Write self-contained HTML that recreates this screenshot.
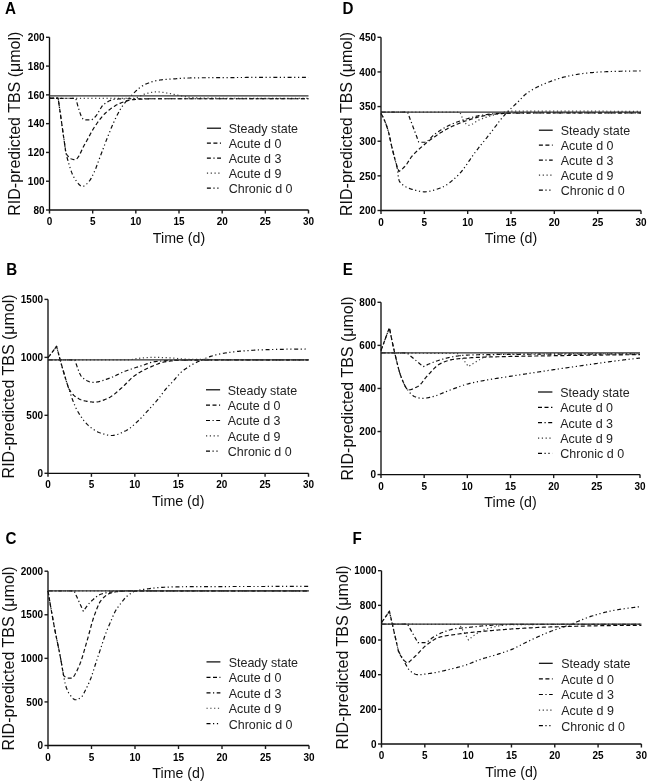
<!DOCTYPE html><html><head><meta charset="utf-8"><style>html,body{margin:0;padding:0;background:#fff;width:649px;height:784px;overflow:hidden}svg{display:block}</style></head><body>
<svg width="649" height="784" viewBox="0 0 649 784" font-family='"Liberation Sans", sans-serif'>
<defs><filter id="bl" x="0" y="0" width="649" height="784" filterUnits="userSpaceOnUse"><feGaussianBlur stdDeviation="0.35"/></filter></defs>
<rect width="649" height="784" fill="#fff"/><g filter="url(#bl)">
<g><text transform="translate(5.00,13.60) scale(0.92,1)" font-size="16.5" font-weight="bold" fill="#000">A</text><path d="M49.50,37.30V210.00H308.50" fill="none" stroke="#111" stroke-width="1.35"/><path d="M46.00,210.00H49.50" stroke="#1a1a1a" stroke-width="1.4"/><text transform="translate(44.50,213.70) scale(0.97,1)" font-size="10.3" font-weight="bold" text-anchor="end" fill="#000">80</text><path d="M46.00,181.22H49.50" stroke="#1a1a1a" stroke-width="1.4"/><text transform="translate(44.50,184.92) scale(0.97,1)" font-size="10.3" font-weight="bold" text-anchor="end" fill="#000">100</text><path d="M46.00,152.43H49.50" stroke="#1a1a1a" stroke-width="1.4"/><text transform="translate(44.50,156.13) scale(0.97,1)" font-size="10.3" font-weight="bold" text-anchor="end" fill="#000">120</text><path d="M46.00,123.65H49.50" stroke="#1a1a1a" stroke-width="1.4"/><text transform="translate(44.50,127.35) scale(0.97,1)" font-size="10.3" font-weight="bold" text-anchor="end" fill="#000">140</text><path d="M46.00,94.87H49.50" stroke="#1a1a1a" stroke-width="1.4"/><text transform="translate(44.50,98.57) scale(0.97,1)" font-size="10.3" font-weight="bold" text-anchor="end" fill="#000">160</text><path d="M46.00,66.08H49.50" stroke="#1a1a1a" stroke-width="1.4"/><text transform="translate(44.50,69.78) scale(0.97,1)" font-size="10.3" font-weight="bold" text-anchor="end" fill="#000">180</text><path d="M46.00,37.30H49.50" stroke="#1a1a1a" stroke-width="1.4"/><text transform="translate(44.50,41.00) scale(0.97,1)" font-size="10.3" font-weight="bold" text-anchor="end" fill="#000">200</text><path d="M49.50,210.00V213.50" stroke="#1a1a1a" stroke-width="1.4"/><text transform="translate(49.50,225.00) scale(0.97,1)" font-size="10.3" font-weight="bold" text-anchor="middle" fill="#000">0</text><path d="M92.67,210.00V213.50" stroke="#1a1a1a" stroke-width="1.4"/><text transform="translate(92.67,225.00) scale(0.97,1)" font-size="10.3" font-weight="bold" text-anchor="middle" fill="#000">5</text><path d="M135.83,210.00V213.50" stroke="#1a1a1a" stroke-width="1.4"/><text transform="translate(135.83,225.00) scale(0.97,1)" font-size="10.3" font-weight="bold" text-anchor="middle" fill="#000">10</text><path d="M179.00,210.00V213.50" stroke="#1a1a1a" stroke-width="1.4"/><text transform="translate(179.00,225.00) scale(0.97,1)" font-size="10.3" font-weight="bold" text-anchor="middle" fill="#000">15</text><path d="M222.17,210.00V213.50" stroke="#1a1a1a" stroke-width="1.4"/><text transform="translate(222.17,225.00) scale(0.97,1)" font-size="10.3" font-weight="bold" text-anchor="middle" fill="#000">20</text><path d="M265.33,210.00V213.50" stroke="#1a1a1a" stroke-width="1.4"/><text transform="translate(265.33,225.00) scale(0.97,1)" font-size="10.3" font-weight="bold" text-anchor="middle" fill="#000">25</text><path d="M308.50,210.00V213.50" stroke="#1a1a1a" stroke-width="1.4"/><text transform="translate(308.50,225.00) scale(0.97,1)" font-size="10.3" font-weight="bold" text-anchor="middle" fill="#000">30</text><text x="179.00" y="242.70" font-size="14.2" text-anchor="middle" fill="#111">Time (d)</text><text transform="translate(20.10,123.65) rotate(-90)" x="0" y="0" font-size="16" text-anchor="middle" fill="#111">RID-predicted TBS (μmol)</text><path d="M49.50,98.32L50.22,98.32L50.94,98.32L51.66,98.32L52.38,98.32L53.10,98.32L53.82,98.32L54.54,98.32L55.26,98.32L55.98,98.32L56.69,98.32L57.41,98.32L58.13,98.32L58.85,98.32L59.57,98.32L60.29,98.32L61.01,98.32L61.73,98.32L62.45,98.32L63.17,98.32L63.89,98.32L64.61,98.32L65.33,98.32L66.05,98.32L66.77,98.32L67.49,98.32L68.21,98.32L68.92,98.32L69.64,98.32L70.36,98.32L71.08,98.32L71.80,98.32L72.52,98.32L73.24,98.32L73.96,98.32L74.68,98.32L75.40,98.32L76.12,98.32L76.84,98.32L77.56,98.32L78.28,98.32L79.00,98.32L79.72,98.32L80.44,98.32L81.16,98.32L81.88,98.32L82.59,98.32L83.31,98.32L84.03,98.32L84.75,98.32L85.47,98.32L86.19,98.32L86.91,98.32L87.63,98.32L88.35,98.32L89.07,98.32L89.79,98.32L90.51,98.32L91.23,98.32L91.95,98.32L92.67,98.32L93.39,98.32L94.11,98.32L94.82,98.32L95.54,98.32L96.26,98.32L96.98,98.32L97.70,98.32L98.42,98.32L99.14,98.32L99.86,98.32L100.58,98.32L101.30,98.32L102.02,98.32L102.74,98.32L103.46,98.32L104.18,98.32L104.90,98.32L105.62,98.32L106.34,98.32L107.06,98.32L107.78,98.32L108.49,98.32L109.21,98.32L109.93,98.32L110.65,98.32L111.37,98.32L112.09,98.32L112.81,98.32L113.53,98.32L114.25,98.32L114.97,98.32L115.69,98.32L116.41,98.32L117.13,98.32L117.85,98.32L118.57,98.32L119.29,98.32L120.01,98.32L120.72,98.32L121.44,98.32L122.16,98.32L122.88,98.32L123.60,98.32L124.32,98.32L125.04,98.32L125.76,98.32L126.48,98.32L127.20,98.32L127.92,98.32L128.64,98.32L129.36,98.32L130.08,98.32L130.80,98.32L131.52,98.32L132.24,98.32L132.96,98.32L133.68,98.31L134.39,98.24L135.11,98.10L135.83,97.92L136.55,97.69L137.27,97.42L137.99,97.12L138.71,96.80L139.43,96.45L140.15,96.10L140.87,95.74L141.59,95.38L142.31,95.03L143.03,94.69L143.75,94.38L144.47,94.10L145.19,93.85L145.91,93.64L146.62,93.47L147.34,93.31L148.06,93.14L148.78,92.97L149.50,92.81L150.22,92.65L150.94,92.50L151.66,92.36L152.38,92.23L153.10,92.12L153.82,92.02L154.54,91.94L155.26,91.89L155.98,91.85L156.70,91.84L157.42,91.86L158.14,91.89L158.86,91.93L159.57,91.99L160.29,92.06L161.01,92.14L161.73,92.23L162.45,92.32L163.17,92.43L163.89,92.53L164.61,92.65L165.33,92.76L166.05,92.87L166.77,92.99L167.49,93.10L168.21,93.21L168.93,93.33L169.65,93.46L170.37,93.60L171.09,93.75L171.81,93.91L172.52,94.07L173.24,94.24L173.96,94.40L174.68,94.57L175.40,94.73L176.12,94.89L176.84,95.04L177.56,95.19L178.28,95.33L179.00,95.46L179.72,95.60L180.44,95.74L181.16,95.88L181.88,96.03L182.60,96.17L183.32,96.30L184.04,96.44L184.76,96.57L185.47,96.70L186.19,96.81L186.91,96.93L187.63,97.03L188.35,97.12L189.07,97.21L189.79,97.28L190.51,97.34L191.23,97.39L191.95,97.45L192.67,97.50L193.39,97.56L194.11,97.61L194.83,97.66L195.55,97.71L196.27,97.75L196.99,97.80L197.71,97.84L198.42,97.88L199.14,97.92L199.86,97.96L200.58,98.00L201.30,98.03L202.02,98.06L202.74,98.08L203.46,98.11L204.18,98.13L204.90,98.14L205.62,98.16L206.34,98.17L207.06,98.17L207.78,98.18L208.50,98.18L209.22,98.18L209.94,98.19L210.66,98.19L211.38,98.19L212.09,98.19L212.81,98.19L213.53,98.20L214.25,98.20L214.97,98.20L215.69,98.20L216.41,98.21L217.13,98.21L217.85,98.21L218.57,98.21L219.29,98.21L220.01,98.22L220.73,98.22L221.45,98.22L222.17,98.22L222.89,98.23L223.61,98.23L224.32,98.23L225.04,98.23L225.76,98.23L226.48,98.23L227.20,98.24L227.92,98.24L228.64,98.24L229.36,98.24L230.08,98.24L230.80,98.25L231.52,98.25L232.24,98.25L232.96,98.25L233.68,98.25L234.40,98.25L235.12,98.26L235.84,98.26L236.56,98.26L237.27,98.26L237.99,98.26L238.71,98.26L239.43,98.26L240.15,98.27L240.87,98.27L241.59,98.27L242.31,98.27L243.03,98.27L243.75,98.27L244.47,98.27L245.19,98.27L245.91,98.28L246.63,98.28L247.35,98.28L248.07,98.28L248.79,98.28L249.51,98.28L250.22,98.28L250.94,98.28L251.66,98.29L252.38,98.29L253.10,98.29L253.82,98.29L254.54,98.29L255.26,98.29L255.98,98.29L256.70,98.29L257.42,98.29L258.14,98.29L258.86,98.29L259.58,98.30L260.30,98.30L261.02,98.30L261.74,98.30L262.46,98.30L263.17,98.30L263.89,98.30L264.61,98.30L265.33,98.30L266.05,98.30L266.77,98.30L267.49,98.30L268.21,98.30L268.93,98.31L269.65,98.31L270.37,98.31L271.09,98.31L271.81,98.31L272.53,98.31L273.25,98.31L273.97,98.31L274.69,98.31L275.41,98.31L276.12,98.31L276.84,98.31L277.56,98.31L278.28,98.31L279.00,98.31L279.72,98.31L280.44,98.31L281.16,98.31L281.88,98.31L282.60,98.31L283.32,98.32L284.04,98.32L284.76,98.32L285.48,98.32L286.20,98.32L286.92,98.32L287.64,98.32L288.36,98.32L289.07,98.32L289.79,98.32L290.51,98.32L291.23,98.32L291.95,98.32L292.67,98.32L293.39,98.32L294.11,98.32L294.83,98.32L295.55,98.32L296.27,98.32L296.99,98.32L297.71,98.32L298.43,98.32L299.15,98.32L299.87,98.32L300.59,98.32L301.31,98.32L302.02,98.32L302.74,98.32L303.46,98.32L304.18,98.32L304.90,98.32L305.62,98.32L306.34,98.32L307.06,98.32L307.78,98.32L308.50,98.32" fill="none" stroke="#111" stroke-width="1.2" stroke-opacity="0.8" stroke-dasharray="1.2 2.6" stroke-linejoin="round"/><path d="M49.50,98.32L75.83,98.32L76.55,101.12L77.27,103.85L77.99,106.47L78.71,108.95L79.43,111.26L80.15,113.37L80.87,115.24L81.59,116.84L82.31,118.14L83.04,119.10L83.76,119.70L84.48,119.91L85.20,119.91L85.92,119.91L86.64,119.91L87.36,119.91L88.08,119.91L88.80,119.91L89.52,119.91L90.24,119.91L90.96,119.91L91.68,119.76L92.40,119.37L93.12,118.81L93.84,118.14L94.56,117.42L95.28,116.72L96.00,115.94L96.72,114.98L97.44,113.89L98.16,112.70L98.88,111.44L99.60,110.17L100.32,108.92L101.04,107.71L101.76,106.60L102.48,105.62L103.20,104.81L103.92,104.20L104.65,103.70L105.37,103.21L106.09,102.74L106.81,102.29L107.53,101.86L108.25,101.46L108.97,101.08L109.69,100.72L110.41,100.40L111.13,100.11L111.85,99.85L112.57,99.63L113.29,99.45L114.01,99.31L114.73,99.22L115.45,99.16L116.17,99.12L116.89,99.07L117.61,99.03L118.33,98.99L119.05,98.96L119.77,98.92L120.49,98.89L121.21,98.87L121.93,98.84L122.65,98.82L123.37,98.80L124.09,98.78L124.81,98.77L125.53,98.76L126.26,98.76L126.98,98.75L127.70,98.75L128.42,98.75L129.14,98.75L129.86,98.75L130.58,98.75L131.30,98.75L132.02,98.75L132.74,98.75L133.46,98.75L134.18,98.75L134.90,98.75L135.62,98.75L136.34,98.75L137.06,98.75L137.78,98.75L138.50,98.75L139.22,98.75L139.94,98.75L140.66,98.75L141.38,98.75L142.10,98.75L142.82,98.75L143.54,98.75L144.26,98.75L144.98,98.75L145.70,98.75L146.42,98.75L147.14,98.75L147.87,98.75L148.59,98.75L149.31,98.75L150.03,98.75L150.75,98.75L151.47,98.75L152.19,98.75L152.91,98.75L153.63,98.75L154.35,98.75L155.07,98.75L155.79,98.75L156.51,98.75L157.23,98.75L157.95,98.75L158.67,98.75L159.39,98.75L160.11,98.75L160.83,98.75L161.55,98.75L162.27,98.75L162.99,98.75L163.71,98.75L164.43,98.75L165.15,98.75L165.87,98.75L166.59,98.75L167.31,98.75L168.03,98.75L168.75,98.75L169.48,98.75L170.20,98.75L170.92,98.75L171.64,98.75L172.36,98.75L173.08,98.75L173.80,98.75L174.52,98.75L175.24,98.75L175.96,98.75L176.68,98.75L177.40,98.75L178.12,98.75L178.84,98.75L179.56,98.75L180.28,98.75L181.00,98.75L181.72,98.75L182.44,98.75L183.16,98.75L183.88,98.75L184.60,98.75L185.32,98.75L186.04,98.75L186.76,98.75L187.48,98.75L188.20,98.75L188.92,98.75L189.64,98.75L190.36,98.75L191.09,98.75L191.81,98.75L192.53,98.75L193.25,98.75L193.97,98.75L194.69,98.75L195.41,98.75L196.13,98.75L196.85,98.75L197.57,98.75L198.29,98.75L199.01,98.75L199.73,98.75L200.45,98.75L201.17,98.75L201.89,98.75L202.61,98.75L203.33,98.75L204.05,98.75L204.77,98.75L205.49,98.75L206.21,98.75L206.93,98.75L207.65,98.75L208.37,98.75L209.09,98.75L209.81,98.75L210.53,98.75L211.25,98.75L211.98,98.75L212.70,98.75L213.42,98.75L214.14,98.75L214.86,98.75L215.58,98.75L216.30,98.75L217.02,98.75L217.74,98.75L218.46,98.75L219.18,98.75L219.90,98.75L220.62,98.75L221.34,98.75L222.06,98.75L222.78,98.75L223.50,98.75L224.22,98.75L224.94,98.75L225.66,98.75L226.38,98.75L227.10,98.75L227.82,98.75L228.54,98.75L229.26,98.75L229.98,98.75L230.70,98.75L231.42,98.75L232.14,98.75L232.86,98.75L233.59,98.75L234.31,98.75L235.03,98.75L235.75,98.75L236.47,98.75L237.19,98.75L237.91,98.75L238.63,98.75L239.35,98.75L240.07,98.75L240.79,98.75L241.51,98.75L242.23,98.75L242.95,98.75L243.67,98.75L244.39,98.75L245.11,98.75L245.83,98.75L246.55,98.75L247.27,98.75L247.99,98.75L248.71,98.75L249.43,98.75L250.15,98.75L250.87,98.75L251.59,98.75L252.31,98.75L253.03,98.75L253.75,98.75L254.47,98.75L255.20,98.75L255.92,98.75L256.64,98.75L257.36,98.75L258.08,98.75L258.80,98.75L259.52,98.75L260.24,98.75L260.96,98.75L261.68,98.75L262.40,98.75L263.12,98.75L263.84,98.75L264.56,98.75L265.28,98.75L266.00,98.75L266.72,98.75L267.44,98.75L268.16,98.75L268.88,98.75L269.60,98.75L270.32,98.75L271.04,98.75L271.76,98.75L272.48,98.75L273.20,98.75L273.92,98.75L274.64,98.75L275.36,98.75L276.08,98.75L276.81,98.75L277.53,98.75L278.25,98.75L278.97,98.75L279.69,98.75L280.41,98.75L281.13,98.75L281.85,98.75L282.57,98.75L283.29,98.75L284.01,98.75L284.73,98.75L285.45,98.75L286.17,98.75L286.89,98.75L287.61,98.75L288.33,98.75L289.05,98.75L289.77,98.75L290.49,98.75L291.21,98.75L291.93,98.75L292.65,98.75L293.37,98.75L294.09,98.75L294.81,98.75L295.53,98.75L296.25,98.75L296.97,98.75L297.69,98.75L298.42,98.75L299.14,98.75L299.86,98.75L300.58,98.75L301.30,98.75L302.02,98.75L302.74,98.75L303.46,98.75L304.18,98.75L304.90,98.75L305.62,98.75L306.34,98.75L307.06,98.75L307.78,98.75L308.50,98.75" fill="none" stroke="#111" stroke-width="1.2" stroke-opacity="1.0" stroke-dasharray="4 2.5 1.2 2.5" stroke-linejoin="round"/><path d="M49.50,98.03L58.13,98.03L65.90,153.01L66.62,154.25L67.34,155.32L68.06,156.25L68.78,157.04L69.50,157.70L70.22,158.24L70.94,158.68L71.66,159.02L72.38,159.27L73.10,159.45L73.82,159.56L74.54,159.62L75.26,159.62L75.98,159.42L76.70,158.92L77.42,158.18L78.14,157.21L78.86,156.07L79.58,154.77L80.30,153.36L81.02,151.88L81.74,150.34L82.46,148.80L83.18,147.28L83.90,145.82L84.62,144.45L85.34,143.20L86.06,141.96L86.78,140.68L87.50,139.38L88.22,138.05L88.94,136.72L89.66,135.38L90.38,134.04L91.10,132.72L91.82,131.43L92.54,130.16L93.26,128.93L93.98,127.76L94.70,126.63L95.42,125.58L96.14,124.54L96.86,123.52L97.58,122.52L98.30,121.52L99.02,120.55L99.74,119.60L100.46,118.67L101.18,117.76L101.90,116.89L102.62,116.04L103.34,115.23L104.06,114.45L104.78,113.72L105.50,113.02L106.22,112.36L106.94,111.75L107.66,111.15L108.38,110.56L109.10,109.99L109.82,109.43L110.54,108.88L111.26,108.35L111.98,107.83L112.69,107.33L113.41,106.85L114.13,106.39L114.85,105.94L115.57,105.51L116.29,105.10L117.01,104.71L117.73,104.35L118.45,104.00L119.17,103.67L119.89,103.37L120.61,103.09L121.33,102.81L122.05,102.54L122.77,102.27L123.49,102.01L124.21,101.75L124.93,101.50L125.65,101.27L126.37,101.04L127.09,100.82L127.81,100.62L128.53,100.43L129.25,100.25L129.97,100.09L130.69,99.95L131.41,99.83L132.13,99.73L132.85,99.65L133.57,99.59L134.29,99.53L135.01,99.48L135.73,99.43L136.45,99.38L137.17,99.33L137.89,99.28L138.61,99.23L139.33,99.19L140.05,99.15L140.77,99.11L141.49,99.07L142.21,99.03L142.93,99.00L143.65,98.97L144.37,98.94L145.09,98.91L145.81,98.88L146.53,98.86L147.25,98.84L147.97,98.82L148.69,98.80L149.41,98.79L150.13,98.77L150.85,98.77L151.57,98.76L152.29,98.75L153.01,98.75L153.73,98.75L154.45,98.75L155.17,98.75L155.89,98.75L156.61,98.75L157.33,98.75L158.05,98.75L158.77,98.75L159.49,98.75L160.21,98.75L160.93,98.75L161.65,98.75L162.37,98.75L163.09,98.75L163.81,98.75L164.53,98.75L165.25,98.75L165.97,98.75L166.69,98.75L167.41,98.75L168.13,98.75L168.84,98.75L169.56,98.75L170.28,98.75L171.00,98.75L171.72,98.75L172.44,98.75L173.16,98.75L173.88,98.75L174.60,98.75L175.32,98.75L176.04,98.75L176.76,98.75L177.48,98.75L178.20,98.75L178.92,98.75L179.64,98.75L180.36,98.75L181.08,98.75L181.80,98.75L182.52,98.75L183.24,98.75L183.96,98.75L184.68,98.75L185.40,98.75L186.12,98.75L186.84,98.75L187.56,98.75L188.28,98.75L189.00,98.75L189.72,98.75L190.44,98.75L191.16,98.75L191.88,98.75L192.60,98.75L193.32,98.75L194.04,98.75L194.76,98.75L195.48,98.75L196.20,98.75L196.92,98.75L197.64,98.75L198.36,98.75L199.08,98.75L199.80,98.75L200.52,98.75L201.24,98.75L201.96,98.75L202.68,98.75L203.40,98.75L204.12,98.75L204.84,98.75L205.56,98.75L206.28,98.75L207.00,98.75L207.72,98.75L208.44,98.75L209.16,98.75L209.88,98.75L210.60,98.75L211.32,98.75L212.04,98.75L212.76,98.75L213.48,98.75L214.20,98.75L214.92,98.75L215.64,98.75L216.36,98.75L217.08,98.75L217.80,98.75L218.52,98.75L219.24,98.75L219.96,98.75L220.68,98.75L221.40,98.75L222.12,98.75L222.84,98.75L223.56,98.75L224.28,98.75L224.99,98.75L225.71,98.75L226.43,98.75L227.15,98.75L227.87,98.75L228.59,98.75L229.31,98.75L230.03,98.75L230.75,98.75L231.47,98.75L232.19,98.75L232.91,98.75L233.63,98.75L234.35,98.75L235.07,98.75L235.79,98.75L236.51,98.75L237.23,98.75L237.95,98.75L238.67,98.75L239.39,98.75L240.11,98.75L240.83,98.75L241.55,98.75L242.27,98.75L242.99,98.75L243.71,98.75L244.43,98.75L245.15,98.75L245.87,98.75L246.59,98.75L247.31,98.75L248.03,98.75L248.75,98.75L249.47,98.75L250.19,98.75L250.91,98.75L251.63,98.75L252.35,98.75L253.07,98.75L253.79,98.75L254.51,98.75L255.23,98.75L255.95,98.75L256.67,98.75L257.39,98.75L258.11,98.75L258.83,98.75L259.55,98.75L260.27,98.75L260.99,98.75L261.71,98.75L262.43,98.75L263.15,98.75L263.87,98.75L264.59,98.75L265.31,98.75L266.03,98.75L266.75,98.75L267.47,98.75L268.19,98.75L268.91,98.75L269.63,98.75L270.35,98.75L271.07,98.75L271.79,98.75L272.51,98.75L273.23,98.75L273.95,98.75L274.67,98.75L275.39,98.75L276.11,98.75L276.83,98.75L277.55,98.75L278.27,98.75L278.99,98.75L279.71,98.75L280.43,98.75L281.14,98.75L281.86,98.75L282.58,98.75L283.30,98.75L284.02,98.75L284.74,98.75L285.46,98.75L286.18,98.75L286.90,98.75L287.62,98.75L288.34,98.75L289.06,98.75L289.78,98.75L290.50,98.75L291.22,98.75L291.94,98.75L292.66,98.75L293.38,98.75L294.10,98.75L294.82,98.75L295.54,98.75L296.26,98.75L296.98,98.75L297.70,98.75L298.42,98.75L299.14,98.75L299.86,98.75L300.58,98.75L301.30,98.75L302.02,98.75L302.74,98.75L303.46,98.75L304.18,98.75L304.90,98.75L305.62,98.75L306.34,98.75L307.06,98.75L307.78,98.75L308.50,98.75" fill="none" stroke="#111" stroke-width="1.2" stroke-opacity="1.0" stroke-dasharray="4 2.5" stroke-linejoin="round"/><path d="M49.50,98.03L58.13,98.03L65.90,153.01L66.62,155.80L67.34,158.52L68.06,161.14L68.78,163.65L69.50,166.05L70.22,168.31L70.94,170.42L71.66,172.38L72.38,174.16L73.10,175.76L73.82,177.16L74.54,178.35L75.26,179.42L75.98,180.49L76.70,181.52L77.42,182.51L78.14,183.42L78.86,184.25L79.58,184.97L80.30,185.56L81.02,186.01L81.74,186.29L82.46,186.40L83.18,186.31L83.90,186.06L84.62,185.67L85.34,185.16L86.06,184.55L86.78,183.86L87.50,183.11L88.22,182.32L88.94,181.52L89.66,180.68L90.38,179.63L91.10,178.41L91.82,177.04L92.54,175.59L93.26,174.07L93.98,172.55L94.70,170.96L95.42,169.26L96.14,167.46L96.86,165.59L97.58,163.67L98.30,161.71L99.02,159.74L99.74,157.78L100.46,155.84L101.18,153.95L101.90,152.07L102.62,150.16L103.34,148.25L104.06,146.34L104.78,144.43L105.50,142.53L106.22,140.65L106.94,138.79L107.66,136.97L108.38,135.18L109.10,133.39L109.82,131.60L110.54,129.83L111.26,128.08L111.98,126.35L112.69,124.66L113.41,123.01L114.13,121.41L114.85,119.87L115.57,118.38L116.29,116.92L117.01,115.47L117.73,114.06L118.45,112.68L119.17,111.35L119.89,110.07L120.61,108.84L121.33,107.69L122.05,106.60L122.77,105.58L123.49,104.62L124.21,103.70L124.93,102.83L125.65,101.98L126.37,101.16L127.09,100.36L127.81,99.58L128.53,98.79L129.25,98.01L129.97,97.22L130.69,96.43L131.41,95.65L132.13,94.86L132.85,94.09L133.57,93.33L134.29,92.59L135.01,91.86L135.73,91.16L136.45,90.48L137.17,89.84L137.89,89.22L138.61,88.64L139.33,88.10L140.05,87.57L140.77,87.06L141.49,86.56L142.21,86.08L142.93,85.63L143.65,85.20L144.37,84.80L145.09,84.43L145.81,84.09L146.53,83.79L147.25,83.50L147.97,83.21L148.69,82.94L149.41,82.67L150.13,82.41L150.85,82.16L151.57,81.92L152.29,81.69L153.01,81.47L153.73,81.26L154.45,81.06L155.17,80.88L155.89,80.71L156.61,80.56L157.33,80.42L158.05,80.30L158.77,80.19L159.49,80.10L160.21,80.01L160.93,79.92L161.65,79.84L162.37,79.77L163.09,79.70L163.81,79.63L164.53,79.57L165.25,79.51L165.97,79.45L166.69,79.39L167.41,79.34L168.13,79.29L168.84,79.24L169.56,79.19L170.28,79.14L171.00,79.09L171.72,79.04L172.44,78.99L173.16,78.94L173.88,78.89L174.60,78.83L175.32,78.78L176.04,78.73L176.76,78.67L177.48,78.62L178.20,78.56L178.92,78.51L179.64,78.45L180.36,78.40L181.08,78.35L181.80,78.30L182.52,78.26L183.24,78.21L183.96,78.17L184.68,78.14L185.40,78.10L186.12,78.07L186.84,78.05L187.56,78.03L188.28,78.01L189.00,78.00L189.72,77.98L190.44,77.97L191.16,77.95L191.88,77.94L192.60,77.92L193.32,77.91L194.04,77.90L194.76,77.88L195.48,77.87L196.20,77.86L196.92,77.85L197.64,77.84L198.36,77.83L199.08,77.81L199.80,77.80L200.52,77.79L201.24,77.78L201.96,77.77L202.68,77.76L203.40,77.76L204.12,77.75L204.84,77.74L205.56,77.73L206.28,77.72L207.00,77.71L207.72,77.71L208.44,77.70L209.16,77.69L209.88,77.69L210.60,77.68L211.32,77.67L212.04,77.67L212.76,77.66L213.48,77.66L214.20,77.65L214.92,77.64L215.64,77.64L216.36,77.63L217.08,77.63L217.80,77.62L218.52,77.62L219.24,77.61L219.96,77.61L220.68,77.61L221.40,77.60L222.12,77.60L222.84,77.59L223.56,77.59L224.28,77.58L224.99,77.58L225.71,77.58L226.43,77.57L227.15,77.57L227.87,77.56L228.59,77.56L229.31,77.56L230.03,77.55L230.75,77.55L231.47,77.54L232.19,77.54L232.91,77.54L233.63,77.53L234.35,77.53L235.07,77.53L235.79,77.52L236.51,77.52L237.23,77.51L237.95,77.51L238.67,77.51L239.39,77.50L240.11,77.50L240.83,77.50L241.55,77.49L242.27,77.49L242.99,77.49L243.71,77.48L244.43,77.48L245.15,77.48L245.87,77.47L246.59,77.47L247.31,77.47L248.03,77.46L248.75,77.46L249.47,77.46L250.19,77.45L250.91,77.45L251.63,77.45L252.35,77.44L253.07,77.44L253.79,77.44L254.51,77.43L255.23,77.43L255.95,77.43L256.67,77.42L257.39,77.42L258.11,77.42L258.83,77.42L259.55,77.41L260.27,77.41L260.99,77.41L261.71,77.40L262.43,77.40L263.15,77.40L263.87,77.40L264.59,77.39L265.31,77.39L266.03,77.39L266.75,77.39L267.47,77.38L268.19,77.38L268.91,77.38L269.63,77.38L270.35,77.37L271.07,77.37L271.79,77.37L272.51,77.37L273.23,77.36L273.95,77.36L274.67,77.36L275.39,77.36L276.11,77.36L276.83,77.35L277.55,77.35L278.27,77.35L278.99,77.35L279.71,77.35L280.43,77.34L281.14,77.34L281.86,77.34L282.58,77.34L283.30,77.34L284.02,77.34L284.74,77.34L285.46,77.33L286.18,77.33L286.90,77.33L287.62,77.33L288.34,77.33L289.06,77.33L289.78,77.33L290.50,77.32L291.22,77.32L291.94,77.32L292.66,77.32L293.38,77.32L294.10,77.32L294.82,77.32L295.54,77.32L296.26,77.32L296.98,77.32L297.70,77.31L298.42,77.31L299.14,77.31L299.86,77.31L300.58,77.31L301.30,77.31L302.02,77.31L302.74,77.31L303.46,77.31L304.18,77.31L304.90,77.31L305.62,77.31L306.34,77.31L307.06,77.31L307.78,77.31L308.50,77.31" fill="none" stroke="#111" stroke-width="1.2" stroke-opacity="1.0" stroke-dasharray="4 2.5 1.2 2.7 1.2 2.7" stroke-dashoffset="3.2" stroke-linejoin="round"/><path d="M49.50,95.87L308.50,95.87" fill="none" stroke="#333" stroke-width="1.2" stroke-opacity="1.0" stroke-linejoin="round"/><path d="M206.90,128.20H221.00" fill="none" stroke="#000" stroke-width="1.2" stroke-opacity="1.0"/><text transform="translate(228.70,133.00) scale(0.96,1)" font-size="13" fill="#222">Steady state</text><path d="M206.90,143.20H221.00" fill="none" stroke="#000" stroke-width="1.2" stroke-opacity="1.0" stroke-dasharray="4 2.5"/><text transform="translate(228.70,148.00) scale(0.96,1)" font-size="13" fill="#222">Acute d 0</text><path d="M206.90,158.20H221.00" fill="none" stroke="#000" stroke-width="1.2" stroke-opacity="1.0" stroke-dasharray="4 2.5 1.2 2.5"/><text transform="translate(228.70,163.00) scale(0.96,1)" font-size="13" fill="#222">Acute d 3</text><path d="M206.90,173.20H221.00" fill="none" stroke="#000" stroke-width="1.2" stroke-opacity="0.8" stroke-dasharray="1.2 2.6"/><text transform="translate(228.70,178.00) scale(0.96,1)" font-size="13" fill="#222">Acute d 9</text><path d="M206.90,188.20H221.00" fill="none" stroke="#000" stroke-width="1.2" stroke-opacity="1.0" stroke-dasharray="4 2.5 1.2 2.7 1.2 2.7"/><text transform="translate(228.70,193.00) scale(0.96,1)" font-size="13" fill="#222">Chronic d 0</text></g>
<g><text transform="translate(342.40,13.60) scale(0.92,1)" font-size="16.5" font-weight="bold" fill="#000">D</text><path d="M381.00,37.30V210.50H641.00" fill="none" stroke="#111" stroke-width="1.35"/><path d="M377.50,210.50H381.00" stroke="#1a1a1a" stroke-width="1.4"/><text transform="translate(376.00,214.20) scale(0.97,1)" font-size="10.3" font-weight="bold" text-anchor="end" fill="#000">200</text><path d="M377.50,175.86H381.00" stroke="#1a1a1a" stroke-width="1.4"/><text transform="translate(376.00,179.56) scale(0.97,1)" font-size="10.3" font-weight="bold" text-anchor="end" fill="#000">250</text><path d="M377.50,141.22H381.00" stroke="#1a1a1a" stroke-width="1.4"/><text transform="translate(376.00,144.92) scale(0.97,1)" font-size="10.3" font-weight="bold" text-anchor="end" fill="#000">300</text><path d="M377.50,106.58H381.00" stroke="#1a1a1a" stroke-width="1.4"/><text transform="translate(376.00,110.28) scale(0.97,1)" font-size="10.3" font-weight="bold" text-anchor="end" fill="#000">350</text><path d="M377.50,71.94H381.00" stroke="#1a1a1a" stroke-width="1.4"/><text transform="translate(376.00,75.64) scale(0.97,1)" font-size="10.3" font-weight="bold" text-anchor="end" fill="#000">400</text><path d="M377.50,37.30H381.00" stroke="#1a1a1a" stroke-width="1.4"/><text transform="translate(376.00,41.00) scale(0.97,1)" font-size="10.3" font-weight="bold" text-anchor="end" fill="#000">450</text><path d="M381.00,210.50V214.00" stroke="#1a1a1a" stroke-width="1.4"/><text transform="translate(381.00,225.50) scale(0.97,1)" font-size="10.3" font-weight="bold" text-anchor="middle" fill="#000">0</text><path d="M424.33,210.50V214.00" stroke="#1a1a1a" stroke-width="1.4"/><text transform="translate(424.33,225.50) scale(0.97,1)" font-size="10.3" font-weight="bold" text-anchor="middle" fill="#000">5</text><path d="M467.67,210.50V214.00" stroke="#1a1a1a" stroke-width="1.4"/><text transform="translate(467.67,225.50) scale(0.97,1)" font-size="10.3" font-weight="bold" text-anchor="middle" fill="#000">10</text><path d="M511.00,210.50V214.00" stroke="#1a1a1a" stroke-width="1.4"/><text transform="translate(511.00,225.50) scale(0.97,1)" font-size="10.3" font-weight="bold" text-anchor="middle" fill="#000">15</text><path d="M554.33,210.50V214.00" stroke="#1a1a1a" stroke-width="1.4"/><text transform="translate(554.33,225.50) scale(0.97,1)" font-size="10.3" font-weight="bold" text-anchor="middle" fill="#000">20</text><path d="M597.67,210.50V214.00" stroke="#1a1a1a" stroke-width="1.4"/><text transform="translate(597.67,225.50) scale(0.97,1)" font-size="10.3" font-weight="bold" text-anchor="middle" fill="#000">25</text><path d="M641.00,210.50V214.00" stroke="#1a1a1a" stroke-width="1.4"/><text transform="translate(641.00,225.50) scale(0.97,1)" font-size="10.3" font-weight="bold" text-anchor="middle" fill="#000">30</text><text x="511.00" y="243.20" font-size="14.2" text-anchor="middle" fill="#111">Time (d)</text><text transform="translate(352.20,123.90) rotate(-90)" x="0" y="0" font-size="16" text-anchor="middle" fill="#111">RID-predicted TBS (μmol)</text><path d="M381.00,112.12L459.87,112.12L460.59,113.85L461.32,115.53L462.04,117.14L462.76,118.66L463.49,120.07L464.21,121.35L464.94,122.48L465.66,123.45L466.39,124.23L467.11,124.81L467.84,125.17L468.56,125.29L469.29,125.23L470.01,125.08L470.73,124.84L471.46,124.53L472.18,124.17L472.91,123.75L473.63,123.30L474.36,122.82L475.08,122.33L475.81,121.84L476.53,121.36L477.26,120.90L477.98,120.48L478.70,120.10L479.43,119.79L480.15,119.50L480.88,119.22L481.60,118.94L482.33,118.67L483.05,118.40L483.78,118.13L484.50,117.87L485.23,117.62L485.95,117.37L486.67,117.12L487.40,116.88L488.12,116.64L488.85,116.40L489.57,116.18L490.30,115.95L491.02,115.73L491.75,115.51L492.47,115.30L493.20,115.09L493.92,114.88L494.64,114.68L495.37,114.48L496.09,114.29L496.82,114.10L497.54,113.91L498.27,113.73L498.99,113.55L499.72,113.36L500.44,113.17L501.17,112.97L501.89,112.77L502.61,112.57L503.34,112.37L504.06,112.18L504.79,111.99L505.51,111.82L506.24,111.66L506.96,111.51L507.69,111.38L508.41,111.27L509.13,111.18L509.86,111.12L510.58,111.09L511.31,111.08L512.03,111.08L512.76,111.08L513.48,111.08L514.21,111.08L514.93,111.08L515.66,111.08L516.38,111.08L517.10,111.08L517.83,111.08L518.55,111.08L519.28,111.08L520.00,111.08L520.73,111.08L521.45,111.08L522.18,111.08L522.90,111.08L523.63,111.08L524.35,111.08L525.07,111.08L525.80,111.08L526.52,111.08L527.25,111.08L527.97,111.08L528.70,111.08L529.42,111.08L530.15,111.08L530.87,111.08L531.60,111.08L532.32,111.08L533.04,111.08L533.77,111.08L534.49,111.08L535.22,111.08L535.94,111.08L536.67,111.08L537.39,111.08L538.12,111.08L538.84,111.08L539.57,111.08L540.29,111.08L541.01,111.08L541.74,111.08L542.46,111.08L543.19,111.08L543.91,111.08L544.64,111.08L545.36,111.08L546.09,111.08L546.81,111.08L547.54,111.08L548.26,111.08L548.98,111.08L549.71,111.08L550.43,111.08L551.16,111.08L551.88,111.08L552.61,111.08L553.33,111.08L554.06,111.08L554.78,111.08L555.51,111.08L556.23,111.08L556.95,111.08L557.68,111.08L558.40,111.08L559.13,111.08L559.85,111.09L560.58,111.09L561.30,111.09L562.03,111.09L562.75,111.09L563.47,111.09L564.20,111.09L564.92,111.09L565.65,111.09L566.37,111.09L567.10,111.09L567.82,111.09L568.55,111.10L569.27,111.10L570.00,111.10L570.72,111.10L571.44,111.10L572.17,111.10L572.89,111.10L573.62,111.10L574.34,111.11L575.07,111.11L575.79,111.11L576.52,111.11L577.24,111.11L577.97,111.12L578.69,111.12L579.41,111.12L580.14,111.12L580.86,111.12L581.59,111.13L582.31,111.13L583.04,111.13L583.76,111.13L584.49,111.13L585.21,111.14L585.94,111.14L586.66,111.14L587.38,111.14L588.11,111.15L588.83,111.15L589.56,111.15L590.28,111.15L591.01,111.16L591.73,111.16L592.46,111.16L593.18,111.17L593.91,111.17L594.63,111.17L595.35,111.17L596.08,111.18L596.80,111.18L597.53,111.18L598.25,111.19L598.98,111.19L599.70,111.19L600.43,111.20L601.15,111.20L601.88,111.20L602.60,111.21L603.32,111.21L604.05,111.21L604.77,111.22L605.50,111.22L606.22,111.22L606.95,111.23L607.67,111.23L608.40,111.23L609.12,111.24L609.85,111.24L610.57,111.25L611.29,111.25L612.02,111.25L612.74,111.26L613.47,111.26L614.19,111.27L614.92,111.27L615.64,111.27L616.37,111.28L617.09,111.28L617.81,111.29L618.54,111.29L619.26,111.29L619.99,111.30L620.71,111.30L621.44,111.31L622.16,111.31L622.89,111.32L623.61,111.32L624.34,111.32L625.06,111.33L625.78,111.33L626.51,111.34L627.23,111.34L627.96,111.35L628.68,111.35L629.41,111.35L630.13,111.36L630.86,111.36L631.58,111.37L632.31,111.37L633.03,111.38L633.75,111.38L634.48,111.39L635.20,111.39L635.93,111.40L636.65,111.40L637.38,111.41L638.10,111.41L638.83,111.42L639.55,111.42L640.28,111.42L641.00,111.43" fill="none" stroke="#111" stroke-width="1.2" stroke-opacity="0.8" stroke-dasharray="1.2 2.6" stroke-linejoin="round"/><path d="M381.00,112.12L407.52,112.12L418.70,141.98L419.42,142.08L420.15,142.15L420.87,142.19L421.60,142.23L422.32,142.25L423.04,142.26L423.77,142.26L424.49,142.26L425.22,142.15L425.94,141.90L426.67,141.53L427.39,141.06L428.11,140.50L428.84,139.87L429.56,139.18L430.29,138.45L431.01,137.70L431.73,136.95L432.46,136.20L433.18,135.48L433.91,134.81L434.63,134.19L435.35,133.65L436.08,133.16L436.80,132.67L437.53,132.19L438.25,131.72L438.97,131.24L439.70,130.77L440.42,130.31L441.15,129.85L441.87,129.40L442.60,128.96L443.32,128.52L444.04,128.09L444.77,127.67L445.49,127.26L446.22,126.86L446.94,126.47L447.66,126.09L448.39,125.72L449.11,125.36L449.84,125.02L450.56,124.69L451.28,124.36L452.01,124.05L452.73,123.74L453.46,123.44L454.18,123.15L454.91,122.86L455.63,122.58L456.35,122.30L457.08,122.03L457.80,121.77L458.53,121.51L459.25,121.26L459.97,121.01L460.70,120.77L461.42,120.53L462.15,120.29L462.87,120.06L463.59,119.83L464.32,119.61L465.04,119.39L465.77,119.18L466.49,118.96L467.21,118.75L467.94,118.54L468.66,118.32L469.39,118.11L470.11,117.90L470.84,117.69L471.56,117.49L472.28,117.29L473.01,117.09L473.73,116.90L474.46,116.71L475.18,116.52L475.90,116.35L476.63,116.18L477.35,116.01L478.08,115.86L478.80,115.71L479.52,115.57L480.25,115.44L480.97,115.32L481.70,115.22L482.42,115.11L483.15,115.01L483.87,114.90L484.59,114.80L485.32,114.69L486.04,114.59L486.77,114.49L487.49,114.39L488.21,114.30L488.94,114.20L489.66,114.11L490.39,114.02L491.11,113.93L491.83,113.85L492.56,113.77L493.28,113.69L494.01,113.62L494.73,113.55L495.46,113.49L496.18,113.43L496.90,113.38L497.63,113.33L498.35,113.29L499.08,113.25L499.80,113.22L500.52,113.19L501.25,113.18L501.97,113.16L502.70,113.16L503.42,113.15L504.14,113.15L504.87,113.15L505.59,113.14L506.32,113.14L507.04,113.13L507.76,113.13L508.49,113.12L509.21,113.12L509.94,113.12L510.66,113.11L511.39,113.11L512.11,113.10L512.83,113.10L513.56,113.09L514.28,113.09L515.01,113.09L515.73,113.08L516.45,113.08L517.18,113.08L517.90,113.07L518.63,113.07L519.35,113.06L520.07,113.06L520.80,113.06L521.52,113.05L522.25,113.05L522.97,113.05L523.70,113.04L524.42,113.04L525.14,113.04L525.87,113.03L526.59,113.03L527.32,113.03L528.04,113.02L528.76,113.02L529.49,113.02L530.21,113.01L530.94,113.01L531.66,113.01L532.38,113.00L533.11,113.00L533.83,113.00L534.56,112.99L535.28,112.99L536.00,112.99L536.73,112.98L537.45,112.98L538.18,112.98L538.90,112.98L539.63,112.97L540.35,112.97L541.07,112.97L541.80,112.96L542.52,112.96L543.25,112.96L543.97,112.96L544.69,112.95L545.42,112.95L546.14,112.95L546.87,112.95L547.59,112.94L548.31,112.94L549.04,112.94L549.76,112.94L550.49,112.93L551.21,112.93L551.94,112.93L552.66,112.93L553.38,112.93L554.11,112.92L554.83,112.92L555.56,112.92L556.28,112.92L557.00,112.91L557.73,112.91L558.45,112.91L559.18,112.91L559.90,112.91L560.62,112.90L561.35,112.90L562.07,112.90L562.80,112.90L563.52,112.90L564.24,112.90L564.97,112.89L565.69,112.89L566.42,112.89L567.14,112.89L567.87,112.89L568.59,112.88L569.31,112.88L570.04,112.88L570.76,112.88L571.49,112.88L572.21,112.88L572.93,112.88L573.66,112.87L574.38,112.87L575.11,112.87L575.83,112.87L576.55,112.87L577.28,112.87L578.00,112.87L578.73,112.86L579.45,112.86L580.18,112.86L580.90,112.86L581.62,112.86L582.35,112.86L583.07,112.86L583.80,112.86L584.52,112.85L585.24,112.85L585.97,112.85L586.69,112.85L587.42,112.85L588.14,112.85L588.86,112.85L589.59,112.85L590.31,112.85L591.04,112.84L591.76,112.84L592.49,112.84L593.21,112.84L593.93,112.84L594.66,112.84L595.38,112.84L596.11,112.84L596.83,112.84L597.55,112.84L598.28,112.84L599.00,112.83L599.73,112.83L600.45,112.83L601.17,112.83L601.90,112.83L602.62,112.83L603.35,112.83L604.07,112.83L604.79,112.83L605.52,112.83L606.24,112.83L606.97,112.83L607.69,112.83L608.42,112.83L609.14,112.83L609.86,112.83L610.59,112.82L611.31,112.82L612.04,112.82L612.76,112.82L613.48,112.82L614.21,112.82L614.93,112.82L615.66,112.82L616.38,112.82L617.10,112.82L617.83,112.82L618.55,112.82L619.28,112.82L620.00,112.82L620.73,112.82L621.45,112.82L622.17,112.82L622.90,112.82L623.62,112.82L624.35,112.82L625.07,112.82L625.79,112.82L626.52,112.82L627.24,112.82L627.97,112.82L628.69,112.82L629.41,112.82L630.14,112.82L630.86,112.82L631.59,112.82L632.31,112.82L633.03,112.82L633.76,112.82L634.48,112.82L635.21,112.82L635.93,112.82L636.66,112.82L637.38,112.82L638.10,112.82L638.83,112.82L639.55,112.82L640.28,112.82L641.00,112.82" fill="none" stroke="#111" stroke-width="1.2" stroke-opacity="1.0" stroke-dasharray="4 2.5 1.2 2.5" stroke-linejoin="round"/><path d="M381.00,113.51L381.75,114.73L382.50,116.09L383.24,117.59L383.99,119.22L384.74,120.97L385.49,122.85L386.23,124.87L386.98,127.04L387.73,129.38L388.48,131.90L389.22,134.92L389.97,138.36L390.72,141.92L391.46,145.29L392.21,148.45L392.96,151.59L393.71,154.65L394.45,157.57L395.20,160.28L395.95,162.80L396.70,165.18L397.44,167.44L398.19,169.55L398.94,171.50L399.66,171.03L400.39,170.51L401.11,169.94L401.83,169.33L402.55,168.68L403.28,167.99L404.00,167.27L404.72,166.52L405.44,165.73L406.17,164.83L406.89,163.82L407.61,162.74L408.33,161.61L409.06,160.46L409.78,159.32L410.50,158.22L411.22,157.18L411.95,156.25L412.67,155.40L413.39,154.60L414.11,153.84L414.84,153.10L415.56,152.39L416.28,151.71L417.00,151.03L417.73,150.37L418.45,149.71L419.17,149.06L419.89,148.42L420.62,147.78L421.34,147.15L422.06,146.52L422.78,145.90L423.51,145.29L424.23,144.68L424.95,144.08L425.67,143.49L426.40,142.90L427.12,142.32L427.84,141.75L428.57,141.18L429.29,140.62L430.01,140.07L430.73,139.52L431.46,138.98L432.18,138.45L432.90,137.93L433.62,137.42L434.35,136.91L435.07,136.41L435.79,135.91L436.51,135.43L437.24,134.94L437.96,134.46L438.68,133.99L439.40,133.52L440.13,133.05L440.85,132.60L441.57,132.14L442.29,131.70L443.02,131.26L443.74,130.82L444.46,130.40L445.18,129.98L445.91,129.57L446.63,129.16L447.35,128.77L448.07,128.38L448.80,128.00L449.52,127.63L450.24,127.27L450.96,126.92L451.69,126.58L452.41,126.24L453.13,125.91L453.86,125.58L454.58,125.26L455.30,124.95L456.02,124.64L456.75,124.34L457.47,124.04L458.19,123.74L458.91,123.45L459.64,123.17L460.36,122.89L461.08,122.61L461.80,122.34L462.53,122.08L463.25,121.81L463.97,121.55L464.69,121.30L465.42,121.05L466.14,120.80L466.86,120.56L467.58,120.31L468.31,120.07L469.03,119.82L469.75,119.58L470.47,119.34L471.20,119.10L471.92,118.87L472.64,118.64L473.36,118.41L474.09,118.19L474.81,117.98L475.53,117.77L476.25,117.56L476.98,117.36L477.70,117.17L478.42,116.98L479.14,116.81L479.87,116.64L480.59,116.48L481.31,116.32L482.04,116.18L482.76,116.04L483.48,115.90L484.20,115.76L484.93,115.62L485.65,115.49L486.37,115.36L487.09,115.23L487.82,115.11L488.54,114.99L489.26,114.87L489.98,114.76L490.71,114.65L491.43,114.55L492.15,114.45L492.87,114.36L493.60,114.27L494.32,114.19L495.04,114.11L495.76,114.04L496.49,113.98L497.21,113.92L497.93,113.86L498.65,113.81L499.38,113.75L500.10,113.70L500.82,113.65L501.54,113.59L502.27,113.54L502.99,113.49L503.71,113.44L504.43,113.39L505.16,113.35L505.88,113.30L506.60,113.26L507.33,113.21L508.05,113.17L508.77,113.13L509.49,113.10L510.22,113.06L510.94,113.03L511.66,113.00L512.38,112.97L513.11,112.94L513.83,112.91L514.55,112.89L515.27,112.87L516.00,112.86L516.72,112.84L517.44,112.83L518.16,112.82L518.89,112.82L519.61,112.82L520.33,112.82L521.05,112.82L521.78,112.82L522.50,112.82L523.22,112.82L523.94,112.82L524.67,112.82L525.39,112.82L526.11,112.82L526.83,112.82L527.56,112.82L528.28,112.82L529.00,112.82L529.72,112.82L530.45,112.82L531.17,112.82L531.89,112.82L532.61,112.82L533.34,112.82L534.06,112.82L534.78,112.82L535.51,112.82L536.23,112.82L536.95,112.82L537.67,112.82L538.40,112.82L539.12,112.82L539.84,112.82L540.56,112.82L541.29,112.82L542.01,112.82L542.73,112.82L543.45,112.82L544.18,112.82L544.90,112.82L545.62,112.82L546.34,112.82L547.07,112.82L547.79,112.82L548.51,112.82L549.23,112.82L549.96,112.82L550.68,112.82L551.40,112.82L552.12,112.82L552.85,112.82L553.57,112.82L554.29,112.82L555.01,112.82L555.74,112.82L556.46,112.82L557.18,112.82L557.90,112.82L558.63,112.82L559.35,112.82L560.07,112.82L560.80,112.82L561.52,112.82L562.24,112.82L562.96,112.82L563.69,112.82L564.41,112.82L565.13,112.82L565.85,112.82L566.58,112.82L567.30,112.82L568.02,112.82L568.74,112.82L569.47,112.82L570.19,112.82L570.91,112.82L571.63,112.82L572.36,112.82L573.08,112.82L573.80,112.82L574.52,112.82L575.25,112.82L575.97,112.82L576.69,112.82L577.41,112.82L578.14,112.82L578.86,112.82L579.58,112.82L580.30,112.82L581.03,112.82L581.75,112.82L582.47,112.82L583.19,112.82L583.92,112.82L584.64,112.82L585.36,112.82L586.08,112.82L586.81,112.82L587.53,112.82L588.25,112.82L588.98,112.82L589.70,112.82L590.42,112.82L591.14,112.82L591.87,112.82L592.59,112.82L593.31,112.82L594.03,112.82L594.76,112.82L595.48,112.82L596.20,112.82L596.92,112.82L597.65,112.82L598.37,112.82L599.09,112.82L599.81,112.82L600.54,112.82L601.26,112.82L601.98,112.82L602.70,112.82L603.43,112.82L604.15,112.82L604.87,112.82L605.59,112.82L606.32,112.82L607.04,112.82L607.76,112.82L608.48,112.82L609.21,112.82L609.93,112.82L610.65,112.82L611.37,112.82L612.10,112.82L612.82,112.82L613.54,112.82L614.27,112.82L614.99,112.82L615.71,112.82L616.43,112.82L617.16,112.82L617.88,112.82L618.60,112.82L619.32,112.82L620.05,112.82L620.77,112.82L621.49,112.82L622.21,112.82L622.94,112.82L623.66,112.82L624.38,112.82L625.10,112.82L625.83,112.82L626.55,112.82L627.27,112.82L627.99,112.82L628.72,112.82L629.44,112.82L630.16,112.82L630.88,112.82L631.61,112.82L632.33,112.82L633.05,112.82L633.77,112.82L634.50,112.82L635.22,112.82L635.94,112.82L636.66,112.82L637.39,112.82L638.11,112.82L638.83,112.82L639.55,112.82L640.28,112.82L641.00,112.82" fill="none" stroke="#111" stroke-width="1.2" stroke-opacity="1.0" stroke-dasharray="4 2.5" stroke-linejoin="round"/><path d="M381.00,113.51L381.72,114.69L382.45,116.00L383.17,117.44L383.89,119.01L384.62,120.68L385.34,122.48L386.06,124.40L386.79,126.46L387.51,128.68L388.23,131.07L388.96,133.79L389.68,137.00L390.41,140.44L391.13,143.81L391.85,146.90L392.58,149.86L393.30,152.74L394.02,155.59L394.75,158.43L395.47,161.29L396.19,164.15L396.92,167.00L397.64,169.83L398.36,177.32L399.09,180.46L399.81,181.90L400.54,182.96L401.26,183.74L401.99,184.34L402.71,184.86L403.43,185.37L404.16,185.85L404.88,186.30L405.61,186.71L406.33,187.09L407.06,187.45L407.78,187.77L408.50,188.08L409.23,188.36L409.95,188.62L410.68,188.86L411.40,189.09L412.13,189.30L412.85,189.51L413.57,189.73L414.30,189.94L415.02,190.15L415.75,190.35L416.47,190.55L417.20,190.74L417.92,190.92L418.64,191.09L419.37,191.24L420.09,191.38L420.82,191.50L421.54,191.61L422.27,191.69L422.99,191.75L423.71,191.78L424.44,191.79L425.16,191.78L425.89,191.74L426.61,191.69L427.34,191.61L428.06,191.51L428.78,191.40L429.51,191.27L430.23,191.12L430.96,190.96L431.68,190.79L432.41,190.60L433.13,190.40L433.85,190.19L434.58,189.97L435.30,189.74L436.03,189.50L436.75,189.25L437.48,189.00L438.20,188.74L438.92,188.48L439.65,188.22L440.37,187.95L441.10,187.69L441.82,187.41L442.55,187.10L443.27,186.76L443.99,186.39L444.72,186.00L445.44,185.57L446.17,185.13L446.89,184.65L447.62,184.16L448.34,183.64L449.06,183.10L449.79,182.55L450.51,181.97L451.24,181.38L451.96,180.78L452.69,180.16L453.41,179.52L454.13,178.88L454.86,178.22L455.58,177.56L456.31,176.89L457.03,176.21L457.76,175.53L458.48,174.83L459.20,174.10L459.93,173.32L460.65,172.50L461.38,171.64L462.10,170.75L462.83,169.83L463.55,168.88L464.27,167.90L465.00,166.90L465.72,165.88L466.45,164.85L467.17,163.80L467.90,162.75L468.62,161.69L469.34,160.62L470.07,159.56L470.79,158.50L471.52,157.44L472.24,156.40L472.97,155.37L473.69,154.35L474.41,153.36L475.14,152.38L475.86,151.44L476.59,150.50L477.31,149.57L478.04,148.65L478.76,147.73L479.48,146.81L480.21,145.90L480.93,144.99L481.66,144.08L482.38,143.18L483.11,142.27L483.83,141.37L484.55,140.47L485.28,139.57L486.00,138.66L486.73,137.76L487.45,136.85L488.18,135.94L488.90,135.03L489.62,134.11L490.35,133.19L491.07,132.26L491.80,131.31L492.52,130.36L493.25,129.40L493.97,128.43L494.69,127.46L495.42,126.49L496.14,125.53L496.87,124.56L497.59,123.60L498.32,122.65L499.04,121.71L499.76,120.77L500.49,119.86L501.21,118.95L501.94,118.07L502.66,117.20L503.39,116.36L504.11,115.54L504.83,114.74L505.56,113.96L506.28,113.19L507.01,112.44L507.73,111.70L508.46,110.97L509.18,110.25L509.90,109.54L510.63,108.84L511.35,108.14L512.08,107.45L512.80,106.76L513.53,106.08L514.25,105.39L514.97,104.71L515.70,104.02L516.42,103.33L517.15,102.64L517.87,101.94L518.60,101.24L519.32,100.52L520.04,99.77L520.77,99.01L521.49,98.24L522.22,97.47L522.94,96.71L523.67,95.97L524.39,95.27L525.11,94.61L525.84,93.99L526.56,93.44L527.29,92.93L528.01,92.44L528.74,91.95L529.46,91.48L530.18,91.02L530.91,90.57L531.63,90.13L532.36,89.70L533.08,89.28L533.81,88.87L534.53,88.47L535.25,88.08L535.98,87.70L536.70,87.32L537.43,86.96L538.15,86.60L538.88,86.25L539.60,85.91L540.32,85.57L541.05,85.24L541.77,84.92L542.50,84.60L543.22,84.29L543.95,83.99L544.67,83.69L545.39,83.39L546.12,83.10L546.84,82.82L547.57,82.53L548.29,82.26L549.02,81.98L549.74,81.71L550.46,81.44L551.19,81.17L551.91,80.90L552.64,80.64L553.36,80.38L554.09,80.13L554.81,79.88L555.53,79.63L556.26,79.38L556.98,79.14L557.71,78.91L558.43,78.68L559.16,78.45L559.88,78.23L560.60,78.01L561.33,77.80L562.05,77.59L562.78,77.39L563.50,77.19L564.23,77.00L564.95,76.81L565.67,76.63L566.40,76.46L567.12,76.29L567.85,76.13L568.57,75.97L569.30,75.83L570.02,75.68L570.74,75.54L571.47,75.41L572.19,75.27L572.92,75.14L573.64,75.00L574.37,74.87L575.09,74.75L575.81,74.62L576.54,74.50L577.26,74.38L577.99,74.26L578.71,74.15L579.44,74.03L580.16,73.92L580.88,73.82L581.61,73.71L582.33,73.61L583.06,73.51L583.78,73.42L584.51,73.33L585.23,73.24L585.95,73.15L586.68,73.07L587.40,72.99L588.13,72.92L588.85,72.85L589.58,72.78L590.30,72.72L591.02,72.66L591.75,72.60L592.47,72.55L593.20,72.49L593.92,72.44L594.65,72.39L595.37,72.34L596.09,72.29L596.82,72.24L597.54,72.19L598.27,72.14L598.99,72.10L599.72,72.05L600.44,72.01L601.16,71.96L601.89,71.92L602.61,71.88L603.34,71.84L604.06,71.81L604.79,71.77L605.51,71.73L606.23,71.70L606.96,71.67L607.68,71.63L608.41,71.60L609.13,71.57L609.86,71.55L610.58,71.52L611.30,71.49L612.03,71.47L612.75,71.45L613.48,71.43L614.20,71.41L614.93,71.39L615.65,71.37L616.37,71.35L617.10,71.33L617.82,71.32L618.55,71.30L619.27,71.28L620.00,71.26L620.72,71.25L621.44,71.23L622.17,71.22L622.89,71.20L623.62,71.18L624.34,71.17L625.07,71.15L625.79,71.14L626.51,71.12L627.24,71.11L627.96,71.10L628.69,71.09L629.41,71.07L630.14,71.06L630.86,71.05L631.58,71.04L632.31,71.03L633.03,71.02L633.76,71.01L634.48,71.01L635.21,71.00L635.93,70.99L636.65,70.99L637.38,70.98L638.10,70.98L638.83,70.97L639.55,70.97L640.28,70.97L641.00,70.97" fill="none" stroke="#111" stroke-width="1.2" stroke-opacity="1.0" stroke-dasharray="4 2.5 1.2 2.7 1.2 2.7" stroke-dashoffset="3.2" stroke-linejoin="round"/><path d="M381.00,112.12L641.00,112.12" fill="none" stroke="#333" stroke-width="1.2" stroke-opacity="1.0" stroke-linejoin="round"/><path d="M538.90,130.20H552.70" fill="none" stroke="#000" stroke-width="1.2" stroke-opacity="1.0"/><text transform="translate(560.80,135.00) scale(0.96,1)" font-size="13" fill="#222">Steady state</text><path d="M538.90,145.20H552.70" fill="none" stroke="#000" stroke-width="1.2" stroke-opacity="1.0" stroke-dasharray="4 2.5"/><text transform="translate(560.80,150.00) scale(0.96,1)" font-size="13" fill="#222">Acute d 0</text><path d="M538.90,160.20H552.70" fill="none" stroke="#000" stroke-width="1.2" stroke-opacity="1.0" stroke-dasharray="4 2.5 1.2 2.5"/><text transform="translate(560.80,165.00) scale(0.96,1)" font-size="13" fill="#222">Acute d 3</text><path d="M538.90,175.20H552.70" fill="none" stroke="#000" stroke-width="1.2" stroke-opacity="0.8" stroke-dasharray="1.2 2.6"/><text transform="translate(560.80,180.00) scale(0.96,1)" font-size="13" fill="#222">Acute d 9</text><path d="M538.90,190.20H552.70" fill="none" stroke="#000" stroke-width="1.2" stroke-opacity="1.0" stroke-dasharray="4 2.5 1.2 2.7 1.2 2.7"/><text transform="translate(560.80,195.00) scale(0.96,1)" font-size="13" fill="#222">Chronic d 0</text></g>
<g><text transform="translate(6.20,274.60) scale(0.92,1)" font-size="16.5" font-weight="bold" fill="#000">B</text><path d="M48.00,299.40V473.30H308.50" fill="none" stroke="#111" stroke-width="1.35"/><path d="M44.50,473.30H48.00" stroke="#1a1a1a" stroke-width="1.4"/><text transform="translate(43.00,477.00) scale(0.97,1)" font-size="10.3" font-weight="bold" text-anchor="end" fill="#000">0</text><path d="M44.50,415.33H48.00" stroke="#1a1a1a" stroke-width="1.4"/><text transform="translate(43.00,419.03) scale(0.97,1)" font-size="10.3" font-weight="bold" text-anchor="end" fill="#000">500</text><path d="M44.50,357.37H48.00" stroke="#1a1a1a" stroke-width="1.4"/><text transform="translate(43.00,361.07) scale(0.97,1)" font-size="10.3" font-weight="bold" text-anchor="end" fill="#000">1000</text><path d="M44.50,299.40H48.00" stroke="#1a1a1a" stroke-width="1.4"/><text transform="translate(43.00,303.10) scale(0.97,1)" font-size="10.3" font-weight="bold" text-anchor="end" fill="#000">1500</text><path d="M48.00,473.30V476.80" stroke="#1a1a1a" stroke-width="1.4"/><text transform="translate(48.00,488.30) scale(0.97,1)" font-size="10.3" font-weight="bold" text-anchor="middle" fill="#000">0</text><path d="M91.42,473.30V476.80" stroke="#1a1a1a" stroke-width="1.4"/><text transform="translate(91.42,488.30) scale(0.97,1)" font-size="10.3" font-weight="bold" text-anchor="middle" fill="#000">5</text><path d="M134.83,473.30V476.80" stroke="#1a1a1a" stroke-width="1.4"/><text transform="translate(134.83,488.30) scale(0.97,1)" font-size="10.3" font-weight="bold" text-anchor="middle" fill="#000">10</text><path d="M178.25,473.30V476.80" stroke="#1a1a1a" stroke-width="1.4"/><text transform="translate(178.25,488.30) scale(0.97,1)" font-size="10.3" font-weight="bold" text-anchor="middle" fill="#000">15</text><path d="M221.67,473.30V476.80" stroke="#1a1a1a" stroke-width="1.4"/><text transform="translate(221.67,488.30) scale(0.97,1)" font-size="10.3" font-weight="bold" text-anchor="middle" fill="#000">20</text><path d="M265.08,473.30V476.80" stroke="#1a1a1a" stroke-width="1.4"/><text transform="translate(265.08,488.30) scale(0.97,1)" font-size="10.3" font-weight="bold" text-anchor="middle" fill="#000">25</text><path d="M308.50,473.30V476.80" stroke="#1a1a1a" stroke-width="1.4"/><text transform="translate(308.50,488.30) scale(0.97,1)" font-size="10.3" font-weight="bold" text-anchor="middle" fill="#000">30</text><text x="178.25" y="506.00" font-size="14.2" text-anchor="middle" fill="#111">Time (d)</text><text transform="translate(13.90,386.35) rotate(-90)" x="0" y="0" font-size="16" text-anchor="middle" fill="#111">RID-predicted TBS (μmol)</text><path d="M48.00,359.92L48.72,359.92L49.45,359.92L50.17,359.92L50.89,359.92L51.62,359.92L52.34,359.92L53.07,359.92L53.79,359.92L54.51,359.92L55.24,359.92L55.96,359.92L56.68,359.92L57.41,359.92L58.13,359.92L58.85,359.92L59.58,359.92L60.30,359.92L61.02,359.92L61.75,359.92L62.47,359.92L63.20,359.92L63.92,359.92L64.64,359.92L65.37,359.92L66.09,359.92L66.81,359.92L67.54,359.92L68.26,359.92L68.98,359.92L69.71,359.92L70.43,359.92L71.16,359.92L71.88,359.92L72.60,359.92L73.33,359.92L74.05,359.92L74.77,359.92L75.50,359.92L76.22,359.92L76.94,359.92L77.67,359.92L78.39,359.92L79.12,359.92L79.84,359.92L80.56,359.92L81.29,359.92L82.01,359.92L82.73,359.92L83.46,359.92L84.18,359.92L84.90,359.92L85.63,359.92L86.35,359.92L87.08,359.92L87.80,359.92L88.52,359.92L89.25,359.92L89.97,359.92L90.69,359.92L91.42,359.92L92.14,359.92L92.86,359.92L93.59,359.92L94.31,359.92L95.03,359.92L95.76,359.92L96.48,359.92L97.21,359.92L97.93,359.92L98.65,359.92L99.38,359.92L100.10,359.92L100.82,359.92L101.55,359.92L102.27,359.92L102.99,359.92L103.72,359.92L104.44,359.92L105.17,359.92L105.89,359.92L106.61,359.92L107.34,359.92L108.06,359.92L108.78,359.92L109.51,359.92L110.23,359.92L110.95,359.92L111.68,359.92L112.40,359.92L113.12,359.92L113.85,359.92L114.57,359.92L115.30,359.92L116.02,359.92L116.74,359.92L117.47,359.92L118.19,359.92L118.91,359.92L119.64,359.92L120.36,359.92L121.08,359.92L121.81,359.92L122.53,359.92L123.26,359.92L123.98,359.92L124.70,359.92L125.43,359.92L126.15,359.92L126.87,359.92L127.60,359.92L128.32,359.91L129.04,359.88L129.77,359.82L130.49,359.74L131.22,359.64L131.94,359.53L132.66,359.40L133.39,359.27L134.11,359.13L134.83,358.99L135.56,358.85L136.28,358.71L137.00,358.59L137.73,358.47L138.45,358.37L139.18,358.29L139.90,358.22L140.62,358.15L141.35,358.08L142.07,358.01L142.79,357.94L143.52,357.87L144.24,357.80L144.96,357.74L145.69,357.67L146.41,357.62L147.13,357.56L147.86,357.51L148.58,357.47L149.31,357.44L150.03,357.41L150.75,357.38L151.48,357.37L152.20,357.37L152.92,357.37L153.65,357.37L154.37,357.38L155.09,357.38L155.82,357.39L156.54,357.41L157.27,357.42L157.99,357.44L158.71,357.45L159.44,357.47L160.16,357.49L160.88,357.51L161.61,357.53L162.33,357.56L163.05,357.58L163.78,357.61L164.50,357.63L165.23,357.66L165.95,357.69L166.67,357.72L167.40,357.74L168.12,357.77L168.84,357.80L169.57,357.83L170.29,357.86L171.01,357.90L171.74,357.95L172.46,358.01L173.18,358.07L173.91,358.13L174.63,358.20L175.36,358.28L176.08,358.35L176.80,358.43L177.53,358.51L178.25,358.58L178.97,358.66L179.70,358.74L180.42,358.81L181.14,358.88L181.87,358.94L182.59,359.00L183.32,359.06L184.04,359.11L184.76,359.15L185.49,359.18L186.21,359.21L186.93,359.22L187.66,359.23L188.38,359.24L189.10,359.25L189.83,359.26L190.55,359.27L191.28,359.28L192.00,359.29L192.72,359.30L193.45,359.31L194.17,359.32L194.89,359.32L195.62,359.33L196.34,359.34L197.06,359.35L197.79,359.36L198.51,359.37L199.23,359.38L199.96,359.39L200.68,359.39L201.41,359.40L202.13,359.41L202.85,359.42L203.58,359.43L204.30,359.43L205.02,359.44L205.75,359.45L206.47,359.46L207.19,359.46L207.92,359.47L208.64,359.48L209.37,359.49L210.09,359.49L210.81,359.50L211.54,359.51L212.26,359.52L212.98,359.52L213.71,359.53L214.43,359.54L215.15,359.54L215.88,359.55L216.60,359.56L217.33,359.56L218.05,359.57L218.77,359.58L219.50,359.58L220.22,359.59L220.94,359.60L221.67,359.60L222.39,359.61L223.11,359.61L223.84,359.62L224.56,359.62L225.28,359.63L226.01,359.64L226.73,359.64L227.46,359.65L228.18,359.65L228.90,359.66L229.63,359.66L230.35,359.67L231.07,359.67L231.80,359.68L232.52,359.68L233.24,359.69L233.97,359.69L234.69,359.70L235.42,359.70L236.14,359.71L236.86,359.71L237.59,359.72L238.31,359.72L239.03,359.73L239.76,359.73L240.48,359.74L241.20,359.74L241.93,359.74L242.65,359.75L243.38,359.75L244.10,359.76L244.82,359.76L245.55,359.77L246.27,359.77L246.99,359.77L247.72,359.78L248.44,359.78L249.16,359.78L249.89,359.79L250.61,359.79L251.33,359.79L252.06,359.80L252.78,359.80L253.51,359.80L254.23,359.81L254.95,359.81L255.68,359.81L256.40,359.82L257.12,359.82L257.85,359.82L258.57,359.83L259.29,359.83L260.02,359.83L260.74,359.83L261.47,359.84L262.19,359.84L262.91,359.84L263.64,359.85L264.36,359.85L265.08,359.85L265.81,359.85L266.53,359.86L267.25,359.86L267.98,359.86L268.70,359.86L269.43,359.86L270.15,359.87L270.87,359.87L271.60,359.87L272.32,359.87L273.04,359.87L273.77,359.88L274.49,359.88L275.21,359.88L275.94,359.88L276.66,359.88L277.38,359.88L278.11,359.89L278.83,359.89L279.56,359.89L280.28,359.89L281.00,359.89L281.73,359.89L282.45,359.89L283.17,359.90L283.90,359.90L284.62,359.90L285.34,359.90L286.07,359.90L286.79,359.90L287.52,359.90L288.24,359.90L288.96,359.91L289.69,359.91L290.41,359.91L291.13,359.91L291.86,359.91L292.58,359.91L293.30,359.91L294.03,359.91L294.75,359.91L295.48,359.91L296.20,359.91L296.92,359.91L297.65,359.91L298.37,359.91L299.09,359.91L299.82,359.91L300.54,359.92L301.26,359.92L301.99,359.92L302.71,359.92L303.43,359.92L304.16,359.92L304.88,359.92L305.61,359.92L306.33,359.92L307.05,359.92L307.78,359.92L308.50,359.92" fill="none" stroke="#111" stroke-width="1.2" stroke-opacity="0.8" stroke-dasharray="1.2 2.6" stroke-linejoin="round"/><path d="M48.00,359.92L74.92,359.92L75.64,362.19L76.37,364.44L77.09,366.62L77.82,368.71L78.55,370.66L79.27,372.46L80.00,374.07L80.72,375.46L81.45,376.59L82.17,377.44L82.90,378.03L83.62,378.56L84.35,379.07L85.07,379.55L85.80,380.01L86.52,380.43L87.25,380.81L87.98,381.16L88.70,381.47L89.43,381.74L90.15,381.97L90.88,382.15L91.60,382.29L92.33,382.37L93.05,382.41L93.78,382.40L94.50,382.36L95.23,382.30L95.96,382.21L96.68,382.10L97.41,381.96L98.13,381.81L98.86,381.64L99.58,381.46L100.31,381.26L101.03,381.05L101.76,380.83L102.48,380.60L103.21,380.36L103.93,380.11L104.66,379.87L105.39,379.62L106.11,379.37L106.84,379.12L107.56,378.87L108.29,378.63L109.01,378.39L109.74,378.14L110.46,377.87L111.19,377.58L111.91,377.28L112.64,376.96L113.37,376.64L114.09,376.30L114.82,375.95L115.54,375.60L116.27,375.25L116.99,374.89L117.72,374.53L118.44,374.17L119.17,373.81L119.89,373.46L120.62,373.12L121.34,372.78L122.07,372.46L122.80,372.14L123.52,371.84L124.25,371.56L124.97,371.28L125.70,371.01L126.42,370.74L127.15,370.47L127.87,370.21L128.60,369.96L129.32,369.70L130.05,369.45L130.77,369.20L131.50,368.96L132.23,368.72L132.95,368.47L133.68,368.24L134.40,368.00L135.13,367.76L135.85,367.53L136.58,367.30L137.30,367.06L138.03,366.83L138.75,366.60L139.48,366.37L140.21,366.14L140.93,365.91L141.66,365.68L142.38,365.45L143.11,365.22L143.83,364.97L144.56,364.72L145.28,364.45L146.01,364.19L146.73,363.92L147.46,363.65L148.18,363.39L148.91,363.14L149.64,362.89L150.36,362.66L151.09,362.44L151.81,362.24L152.54,362.06L153.26,361.90L153.99,361.77L154.71,361.67L155.44,361.58L156.16,361.50L156.89,361.43L157.61,361.35L158.34,361.27L159.07,361.20L159.79,361.13L160.52,361.06L161.24,361.00L161.97,360.93L162.69,360.87L163.42,360.81L164.14,360.75L164.87,360.70L165.59,360.65L166.32,360.60L167.05,360.55L167.77,360.50L168.50,360.46L169.22,360.42L169.95,360.38L170.67,360.35L171.40,360.31L172.12,360.28L172.85,360.26L173.57,360.23L174.30,360.21L175.02,360.19L175.75,360.18L176.48,360.17L177.20,360.16L177.93,360.15L178.65,360.15L179.38,360.14L180.10,360.14L180.83,360.14L181.55,360.13L182.28,360.13L183.00,360.13L183.73,360.13L184.46,360.12L185.18,360.12L185.91,360.12L186.63,360.11L187.36,360.11L188.08,360.11L188.81,360.11L189.53,360.10L190.26,360.10L190.98,360.10L191.71,360.09L192.43,360.09L193.16,360.09L193.89,360.09L194.61,360.08L195.34,360.08L196.06,360.08L196.79,360.08L197.51,360.07L198.24,360.07L198.96,360.07L199.69,360.07L200.41,360.06L201.14,360.06L201.86,360.06L202.59,360.06L203.32,360.05L204.04,360.05L204.77,360.05L205.49,360.05L206.22,360.05L206.94,360.04L207.67,360.04L208.39,360.04L209.12,360.04L209.84,360.03L210.57,360.03L211.30,360.03L212.02,360.03L212.75,360.03L213.47,360.02L214.20,360.02L214.92,360.02L215.65,360.02L216.37,360.02L217.10,360.01L217.82,360.01L218.55,360.01L219.27,360.01L220.00,360.01L220.73,360.01L221.45,360.00L222.18,360.00L222.90,360.00L223.63,360.00L224.35,360.00L225.08,360.00L225.80,359.99L226.53,359.99L227.25,359.99L227.98,359.99L228.71,359.99L229.43,359.99L230.16,359.98L230.88,359.98L231.61,359.98L232.33,359.98L233.06,359.98L233.78,359.98L234.51,359.98L235.23,359.97L235.96,359.97L236.68,359.97L237.41,359.97L238.14,359.97L238.86,359.97L239.59,359.97L240.31,359.97L241.04,359.96L241.76,359.96L242.49,359.96L243.21,359.96L243.94,359.96L244.66,359.96L245.39,359.96L246.11,359.96L246.84,359.96L247.57,359.95L248.29,359.95L249.02,359.95L249.74,359.95L250.47,359.95L251.19,359.95L251.92,359.95L252.64,359.95L253.37,359.95L254.09,359.95L254.82,359.95L255.55,359.94L256.27,359.94L257.00,359.94L257.72,359.94L258.45,359.94L259.17,359.94L259.90,359.94L260.62,359.94L261.35,359.94L262.07,359.94L262.80,359.94L263.52,359.94L264.25,359.94L264.98,359.93L265.70,359.93L266.43,359.93L267.15,359.93L267.88,359.93L268.60,359.93L269.33,359.93L270.05,359.93L270.78,359.93L271.50,359.93L272.23,359.93L272.95,359.93L273.68,359.93L274.41,359.93L275.13,359.93L275.86,359.93L276.58,359.93L277.31,359.93L278.03,359.93L278.76,359.92L279.48,359.92L280.21,359.92L280.93,359.92L281.66,359.92L282.39,359.92L283.11,359.92L283.84,359.92L284.56,359.92L285.29,359.92L286.01,359.92L286.74,359.92L287.46,359.92L288.19,359.92L288.91,359.92L289.64,359.92L290.36,359.92L291.09,359.92L291.82,359.92L292.54,359.92L293.27,359.92L293.99,359.92L294.72,359.92L295.44,359.92L296.17,359.92L296.89,359.92L297.62,359.92L298.34,359.92L299.07,359.92L299.80,359.92L300.52,359.92L301.25,359.92L301.97,359.92L302.70,359.92L303.42,359.92L304.15,359.92L304.87,359.92L305.60,359.92L306.32,359.92L307.05,359.92L307.77,359.92L308.50,359.92" fill="none" stroke="#111" stroke-width="1.2" stroke-opacity="1.0" stroke-dasharray="4 2.5 1.2 2.5" stroke-linejoin="round"/><path d="M48.00,357.71L56.60,346.35L57.35,349.28L58.11,352.17L58.86,355.02L59.61,357.84L60.37,360.60L61.12,363.32L61.88,365.99L62.63,368.63L63.39,371.24L64.14,373.81L64.89,376.35L65.65,378.86L66.40,381.33L67.16,383.76L67.91,386.15L68.67,388.49L69.39,389.61L70.12,390.70L70.84,391.75L71.56,392.74L72.29,393.67L73.01,394.52L73.74,395.27L74.46,395.92L75.19,396.46L75.91,396.97L76.64,397.46L77.36,397.92L78.09,398.35L78.81,398.76L79.53,399.14L80.26,399.49L80.98,399.81L81.71,400.10L82.43,400.35L83.16,400.57L83.88,400.74L84.61,400.89L85.33,401.03L86.06,401.17L86.78,401.30L87.51,401.43L88.23,401.54L88.95,401.65L89.68,401.75L90.40,401.84L91.13,401.92L91.85,401.99L92.58,402.04L93.30,402.08L94.03,402.11L94.75,402.12L95.48,402.10L96.20,402.05L96.92,401.97L97.65,401.86L98.37,401.72L99.10,401.56L99.82,401.37L100.55,401.16L101.27,400.92L102.00,400.67L102.72,400.41L103.45,400.13L104.17,399.84L104.89,399.54L105.62,399.23L106.34,398.91L107.07,398.59L107.79,398.27L108.52,397.95L109.24,397.61L109.97,397.24L110.69,396.82L111.42,396.36L112.14,395.87L112.87,395.35L113.59,394.79L114.31,394.22L115.04,393.62L115.76,393.01L116.49,392.38L117.21,391.75L117.94,391.11L118.66,390.47L119.39,389.83L120.11,389.20L120.84,388.58L121.56,387.96L122.28,387.31L123.01,386.64L123.73,385.94L124.46,385.23L125.18,384.50L125.91,383.76L126.63,383.02L127.36,382.28L128.08,381.54L128.81,380.81L129.53,380.08L130.26,379.38L130.98,378.69L131.70,378.02L132.43,377.38L133.15,376.77L133.88,376.20L134.60,375.66L135.33,375.16L136.05,374.67L136.78,374.20L137.50,373.73L138.23,373.28L138.95,372.83L139.67,372.40L140.40,371.97L141.12,371.56L141.85,371.16L142.57,370.76L143.30,370.37L144.02,370.00L144.75,369.63L145.47,369.27L146.20,368.92L146.92,368.57L147.64,368.23L148.37,367.90L149.09,367.58L149.82,367.26L150.54,366.96L151.27,366.65L151.99,366.34L152.72,366.03L153.44,365.72L154.17,365.41L154.89,365.11L155.62,364.81L156.34,364.51L157.06,364.22L157.79,363.94L158.51,363.67L159.24,363.41L159.96,363.16L160.69,362.92L161.41,362.69L162.14,362.48L162.86,362.28L163.59,362.10L164.31,361.94L165.03,361.79L165.76,361.67L166.48,361.56L167.21,361.45L167.93,361.34L168.66,361.24L169.38,361.14L170.11,361.04L170.83,360.95L171.56,360.86L172.28,360.78L173.00,360.70L173.73,360.62L174.45,360.55L175.18,360.48L175.90,360.42L176.63,360.37L177.35,360.32L178.08,360.27L178.80,360.23L179.53,360.20L180.25,360.17L180.98,360.15L181.70,360.13L182.42,360.11L183.15,360.09L183.87,360.07L184.60,360.06L185.32,360.04L186.05,360.02L186.77,360.01L187.50,360.00L188.22,359.98L188.95,359.97L189.67,359.96L190.39,359.95L191.12,359.94L191.84,359.94L192.57,359.93L193.29,359.92L194.02,359.92L194.74,359.92L195.47,359.92L196.19,359.92L196.92,359.92L197.64,359.92L198.36,359.92L199.09,359.92L199.81,359.92L200.54,359.92L201.26,359.92L201.99,359.92L202.71,359.92L203.44,359.92L204.16,359.92L204.89,359.92L205.61,359.92L206.34,359.92L207.06,359.92L207.78,359.92L208.51,359.92L209.23,359.92L209.96,359.92L210.68,359.92L211.41,359.92L212.13,359.92L212.86,359.92L213.58,359.92L214.31,359.92L215.03,359.92L215.75,359.92L216.48,359.92L217.20,359.92L217.93,359.92L218.65,359.92L219.38,359.92L220.10,359.92L220.83,359.92L221.55,359.92L222.28,359.92L223.00,359.92L223.72,359.92L224.45,359.92L225.17,359.92L225.90,359.92L226.62,359.92L227.35,359.92L228.07,359.92L228.80,359.92L229.52,359.92L230.25,359.92L230.97,359.92L231.70,359.92L232.42,359.92L233.14,359.92L233.87,359.92L234.59,359.92L235.32,359.92L236.04,359.92L236.77,359.92L237.49,359.92L238.22,359.92L238.94,359.92L239.67,359.92L240.39,359.92L241.11,359.92L241.84,359.92L242.56,359.92L243.29,359.92L244.01,359.92L244.74,359.92L245.46,359.92L246.19,359.92L246.91,359.92L247.64,359.92L248.36,359.92L249.09,359.92L249.81,359.92L250.53,359.92L251.26,359.92L251.98,359.92L252.71,359.92L253.43,359.92L254.16,359.92L254.88,359.92L255.61,359.92L256.33,359.92L257.06,359.92L257.78,359.92L258.50,359.92L259.23,359.92L259.95,359.92L260.68,359.92L261.40,359.92L262.13,359.92L262.85,359.92L263.58,359.92L264.30,359.92L265.03,359.92L265.75,359.92L266.47,359.92L267.20,359.92L267.92,359.92L268.65,359.92L269.37,359.92L270.10,359.92L270.82,359.92L271.55,359.92L272.27,359.92L273.00,359.92L273.72,359.92L274.45,359.92L275.17,359.92L275.89,359.92L276.62,359.92L277.34,359.92L278.07,359.92L278.79,359.92L279.52,359.92L280.24,359.92L280.97,359.92L281.69,359.92L282.42,359.92L283.14,359.92L283.86,359.92L284.59,359.92L285.31,359.92L286.04,359.92L286.76,359.92L287.49,359.92L288.21,359.92L288.94,359.92L289.66,359.92L290.39,359.92L291.11,359.92L291.83,359.92L292.56,359.92L293.28,359.92L294.01,359.92L294.73,359.92L295.46,359.92L296.18,359.92L296.91,359.92L297.63,359.92L298.36,359.92L299.08,359.92L299.81,359.92L300.53,359.92L301.25,359.92L301.98,359.92L302.70,359.92L303.43,359.92L304.15,359.92L304.88,359.92L305.60,359.92L306.33,359.92L307.05,359.92L307.78,359.92L308.50,359.92" fill="none" stroke="#111" stroke-width="1.2" stroke-opacity="1.0" stroke-dasharray="4 2.5" stroke-linejoin="round"/><path d="M48.00,357.71L56.60,346.35L57.35,349.28L58.11,352.17L58.86,355.02L59.61,357.84L60.37,360.60L61.12,363.32L61.88,365.99L62.63,368.63L63.39,371.24L64.14,373.81L64.89,376.35L65.65,378.86L66.40,381.33L67.16,383.76L67.91,386.15L68.67,388.49L69.39,390.69L70.12,392.85L70.84,394.96L71.56,397.02L72.29,399.02L73.01,400.96L73.74,402.81L74.46,404.59L75.19,406.28L75.91,407.87L76.64,409.35L77.36,410.73L78.09,411.99L78.81,413.19L79.53,414.35L80.26,415.48L80.98,416.57L81.71,417.63L82.43,418.64L83.16,419.62L83.88,420.56L84.61,421.46L85.33,422.32L86.06,423.14L86.78,423.92L87.51,424.66L88.23,425.35L88.95,426.01L89.68,426.63L90.40,427.20L91.13,427.75L91.85,428.29L92.58,428.80L93.30,429.30L94.03,429.78L94.75,430.24L95.48,430.68L96.20,431.09L96.92,431.48L97.65,431.85L98.37,432.19L99.10,432.51L99.82,432.79L100.55,433.05L101.27,433.28L102.00,433.51L102.72,433.73L103.45,433.95L104.17,434.17L104.89,434.38L105.62,434.57L106.34,434.76L107.07,434.93L107.79,435.08L108.52,435.21L109.24,435.32L109.97,435.41L110.69,435.47L111.42,435.50L112.14,435.50L112.87,435.46L113.59,435.39L114.31,435.28L115.04,435.14L115.76,434.97L116.49,434.77L117.21,434.54L117.94,434.29L118.66,434.02L119.39,433.73L120.11,433.43L120.84,433.11L121.56,432.78L122.28,432.44L123.01,432.09L123.73,431.74L124.46,431.38L125.18,431.02L125.91,430.67L126.63,430.30L127.36,429.89L128.08,429.44L128.81,428.96L129.53,428.44L130.26,427.90L130.98,427.33L131.70,426.73L132.43,426.12L133.15,425.48L133.88,424.84L134.60,424.18L135.33,423.51L136.05,422.84L136.78,422.17L137.50,421.49L138.23,420.82L138.95,420.15L139.67,419.45L140.40,418.73L141.12,417.98L141.85,417.22L142.57,416.45L143.30,415.66L144.02,414.87L144.75,414.07L145.47,413.26L146.20,412.45L146.92,411.65L147.64,410.85L148.37,410.05L149.09,409.26L149.82,408.47L150.54,407.68L151.27,406.89L151.99,406.09L152.72,405.29L153.44,404.49L154.17,403.68L154.89,402.86L155.62,402.03L156.34,401.19L157.06,400.34L157.79,399.48L158.51,398.60L159.24,397.69L159.96,396.76L160.69,395.80L161.41,394.82L162.14,393.84L162.86,392.87L163.59,391.89L164.31,390.94L165.03,390.00L165.76,389.10L166.48,388.23L167.21,387.40L167.93,386.60L168.66,385.83L169.38,385.08L170.11,384.34L170.83,383.60L171.56,382.86L172.28,382.11L173.00,381.33L173.73,380.52L174.45,379.68L175.18,378.82L175.90,377.95L176.63,377.08L177.35,376.21L178.08,375.37L178.80,374.56L179.53,373.79L180.25,373.06L180.98,372.40L181.70,371.79L182.42,371.20L183.15,370.63L183.87,370.07L184.60,369.52L185.32,368.99L186.05,368.47L186.77,367.97L187.50,367.48L188.22,367.00L188.95,366.53L189.67,366.08L190.39,365.64L191.12,365.21L191.84,364.79L192.57,364.38L193.29,363.98L194.02,363.60L194.74,363.22L195.47,362.85L196.19,362.49L196.92,362.14L197.64,361.80L198.36,361.46L199.09,361.12L199.81,360.79L200.54,360.46L201.26,360.13L201.99,359.81L202.71,359.50L203.44,359.19L204.16,358.88L204.89,358.59L205.61,358.29L206.34,358.01L207.06,357.73L207.78,357.46L208.51,357.19L209.23,356.93L209.96,356.68L210.68,356.43L211.41,356.19L212.13,355.96L212.86,355.74L213.58,355.53L214.31,355.32L215.03,355.12L215.75,354.94L216.48,354.76L217.20,354.59L217.93,354.42L218.65,354.26L219.38,354.10L220.10,353.95L220.83,353.81L221.55,353.67L222.28,353.53L223.00,353.40L223.72,353.27L224.45,353.14L225.17,353.02L225.90,352.90L226.62,352.79L227.35,352.68L228.07,352.58L228.80,352.47L229.52,352.38L230.25,352.28L230.97,352.19L231.70,352.09L232.42,352.00L233.14,351.92L233.87,351.83L234.59,351.74L235.32,351.66L236.04,351.58L236.77,351.50L237.49,351.42L238.22,351.35L238.94,351.28L239.67,351.21L240.39,351.14L241.11,351.07L241.84,351.01L242.56,350.95L243.29,350.89L244.01,350.83L244.74,350.78L245.46,350.72L246.19,350.68L246.91,350.63L247.64,350.58L248.36,350.53L249.09,350.49L249.81,350.44L250.53,350.40L251.26,350.35L251.98,350.31L252.71,350.27L253.43,350.23L254.16,350.19L254.88,350.15L255.61,350.11L256.33,350.07L257.06,350.03L257.78,350.00L258.50,349.96L259.23,349.93L259.95,349.90L260.68,349.86L261.40,349.83L262.13,349.80L262.85,349.78L263.58,349.75L264.30,349.72L265.03,349.70L265.75,349.68L266.47,349.65L267.20,349.63L267.92,349.61L268.65,349.60L269.37,349.58L270.10,349.56L270.82,349.55L271.55,349.53L272.27,349.51L273.00,349.50L273.72,349.48L274.45,349.46L275.17,349.45L275.89,349.43L276.62,349.42L277.34,349.40L278.07,349.39L278.79,349.37L279.52,349.36L280.24,349.34L280.97,349.33L281.69,349.31L282.42,349.30L283.14,349.29L283.86,349.27L284.59,349.26L285.31,349.25L286.04,349.23L286.76,349.22L287.49,349.21L288.21,349.20L288.94,349.19L289.66,349.17L290.39,349.16L291.11,349.15L291.83,349.14L292.56,349.13L293.28,349.12L294.01,349.11L294.73,349.11L295.46,349.10L296.18,349.09L296.91,349.08L297.63,349.07L298.36,349.07L299.08,349.06L299.81,349.06L300.53,349.05L301.25,349.04L301.98,349.04L302.70,349.04L303.43,349.03L304.15,349.03L304.88,349.03L305.60,349.02L306.33,349.02L307.05,349.02L307.78,349.02L308.50,349.02" fill="none" stroke="#111" stroke-width="1.2" stroke-opacity="1.0" stroke-dasharray="4 2.5 1.2 2.7 1.2 2.7" stroke-dashoffset="3.2" stroke-linejoin="round"/><path d="M48.00,359.92L308.50,359.92" fill="none" stroke="#333" stroke-width="1.2" stroke-opacity="1.0" stroke-linejoin="round"/><path d="M206.00,389.80H220.10" fill="none" stroke="#000" stroke-width="1.2" stroke-opacity="1.0"/><text transform="translate(227.80,394.60) scale(0.96,1)" font-size="13" fill="#222">Steady state</text><path d="M206.00,405.15H220.10" fill="none" stroke="#000" stroke-width="1.2" stroke-opacity="1.0" stroke-dasharray="4 2.5"/><text transform="translate(227.80,409.95) scale(0.96,1)" font-size="13" fill="#222">Acute d 0</text><path d="M206.00,420.50H220.10" fill="none" stroke="#000" stroke-width="1.2" stroke-opacity="1.0" stroke-dasharray="4 2.5 1.2 2.5"/><text transform="translate(227.80,425.30) scale(0.96,1)" font-size="13" fill="#222">Acute d 3</text><path d="M206.00,435.85H220.10" fill="none" stroke="#000" stroke-width="1.2" stroke-opacity="0.8" stroke-dasharray="1.2 2.6"/><text transform="translate(227.80,440.65) scale(0.96,1)" font-size="13" fill="#222">Acute d 9</text><path d="M206.00,451.20H220.10" fill="none" stroke="#000" stroke-width="1.2" stroke-opacity="1.0" stroke-dasharray="4 2.5 1.2 2.7 1.2 2.7"/><text transform="translate(227.80,456.00) scale(0.96,1)" font-size="13" fill="#222">Chronic d 0</text></g>
<g><text transform="translate(342.70,274.60) scale(0.92,1)" font-size="16.5" font-weight="bold" fill="#000">E</text><path d="M381.00,302.30V474.60H640.00" fill="none" stroke="#111" stroke-width="1.35"/><path d="M377.50,474.60H381.00" stroke="#1a1a1a" stroke-width="1.4"/><text transform="translate(376.00,478.30) scale(0.97,1)" font-size="10.3" font-weight="bold" text-anchor="end" fill="#000">0</text><path d="M377.50,431.53H381.00" stroke="#1a1a1a" stroke-width="1.4"/><text transform="translate(376.00,435.23) scale(0.97,1)" font-size="10.3" font-weight="bold" text-anchor="end" fill="#000">200</text><path d="M377.50,388.45H381.00" stroke="#1a1a1a" stroke-width="1.4"/><text transform="translate(376.00,392.15) scale(0.97,1)" font-size="10.3" font-weight="bold" text-anchor="end" fill="#000">400</text><path d="M377.50,345.38H381.00" stroke="#1a1a1a" stroke-width="1.4"/><text transform="translate(376.00,349.07) scale(0.97,1)" font-size="10.3" font-weight="bold" text-anchor="end" fill="#000">600</text><path d="M377.50,302.30H381.00" stroke="#1a1a1a" stroke-width="1.4"/><text transform="translate(376.00,306.00) scale(0.97,1)" font-size="10.3" font-weight="bold" text-anchor="end" fill="#000">800</text><path d="M381.00,474.60V478.10" stroke="#1a1a1a" stroke-width="1.4"/><text transform="translate(381.00,489.60) scale(0.97,1)" font-size="10.3" font-weight="bold" text-anchor="middle" fill="#000">0</text><path d="M424.17,474.60V478.10" stroke="#1a1a1a" stroke-width="1.4"/><text transform="translate(424.17,489.60) scale(0.97,1)" font-size="10.3" font-weight="bold" text-anchor="middle" fill="#000">5</text><path d="M467.33,474.60V478.10" stroke="#1a1a1a" stroke-width="1.4"/><text transform="translate(467.33,489.60) scale(0.97,1)" font-size="10.3" font-weight="bold" text-anchor="middle" fill="#000">10</text><path d="M510.50,474.60V478.10" stroke="#1a1a1a" stroke-width="1.4"/><text transform="translate(510.50,489.60) scale(0.97,1)" font-size="10.3" font-weight="bold" text-anchor="middle" fill="#000">15</text><path d="M553.67,474.60V478.10" stroke="#1a1a1a" stroke-width="1.4"/><text transform="translate(553.67,489.60) scale(0.97,1)" font-size="10.3" font-weight="bold" text-anchor="middle" fill="#000">20</text><path d="M596.83,474.60V478.10" stroke="#1a1a1a" stroke-width="1.4"/><text transform="translate(596.83,489.60) scale(0.97,1)" font-size="10.3" font-weight="bold" text-anchor="middle" fill="#000">25</text><path d="M640.00,474.60V478.10" stroke="#1a1a1a" stroke-width="1.4"/><text transform="translate(640.00,489.60) scale(0.97,1)" font-size="10.3" font-weight="bold" text-anchor="middle" fill="#000">30</text><text x="510.50" y="507.30" font-size="14.2" text-anchor="middle" fill="#111">Time (d)</text><text transform="translate(352.50,388.45) rotate(-90)" x="0" y="0" font-size="16" text-anchor="middle" fill="#111">RID-predicted TBS (μmol)</text><path d="M381.00,352.91L458.70,353.56L468.54,366.59L469.26,366.09L469.98,365.59L470.70,365.10L471.42,364.62L472.14,364.14L472.86,363.68L473.58,363.22L474.31,362.77L475.03,362.33L475.75,361.89L476.47,361.46L477.19,361.05L477.91,360.64L478.63,360.24L479.35,359.84L480.07,359.45L480.79,359.04L481.51,358.62L482.23,358.20L482.95,357.79L483.67,357.39L484.39,357.00L485.11,356.64L485.83,356.32L486.55,356.03L487.27,355.79L487.99,355.59L488.71,355.46L489.43,355.34L490.15,355.23L490.87,355.12L491.60,355.02L492.32,354.92L493.04,354.83L493.76,354.74L494.48,354.66L495.20,354.59L495.92,354.52L496.64,354.46L497.36,354.40L498.08,354.35L498.80,354.31L499.52,354.27L500.24,354.24L500.96,354.22L501.68,354.21L502.40,354.20L503.12,354.19L503.84,354.18L504.56,354.17L505.28,354.17L506.00,354.16L506.72,354.15L507.44,354.14L508.16,354.13L508.89,354.13L509.61,354.12L510.33,354.11L511.05,354.10L511.77,354.09L512.49,354.09L513.21,354.08L513.93,354.07L514.65,354.06L515.37,354.06L516.09,354.05L516.81,354.04L517.53,354.04L518.25,354.03L518.97,354.02L519.69,354.02L520.41,354.01L521.13,354.00L521.85,353.99L522.57,353.99L523.29,353.98L524.01,353.98L524.73,353.97L525.45,353.96L526.17,353.96L526.90,353.95L527.62,353.94L528.34,353.94L529.06,353.93L529.78,353.93L530.50,353.92L531.22,353.91L531.94,353.91L532.66,353.90L533.38,353.90L534.10,353.89L534.82,353.89L535.54,353.88L536.26,353.87L536.98,353.87L537.70,353.86L538.42,353.86L539.14,353.85L539.86,353.85L540.58,353.84L541.30,353.84L542.02,353.83L542.74,353.83L543.46,353.82L544.19,353.82L544.91,353.81L545.63,353.81L546.35,353.80L547.07,353.80L547.79,353.80L548.51,353.79L549.23,353.79L549.95,353.78L550.67,353.78L551.39,353.77L552.11,353.77L552.83,353.77L553.55,353.76L554.27,353.76L554.99,353.75L555.71,353.75L556.43,353.75L557.15,353.74L557.87,353.74L558.59,353.73L559.31,353.73L560.03,353.73L560.75,353.72L561.48,353.72L562.20,353.72L562.92,353.71L563.64,353.71L564.36,353.71L565.08,353.70L565.80,353.70L566.52,353.70L567.24,353.69L567.96,353.69L568.68,353.69L569.40,353.68L570.12,353.68L570.84,353.68L571.56,353.67L572.28,353.67L573.00,353.67L573.72,353.67L574.44,353.66L575.16,353.66L575.88,353.66L576.60,353.66L577.32,353.65L578.04,353.65L578.76,353.65L579.49,353.65L580.21,353.64L580.93,353.64L581.65,353.64L582.37,353.64L583.09,353.63L583.81,353.63L584.53,353.63L585.25,353.63L585.97,353.63L586.69,353.62L587.41,353.62L588.13,353.62L588.85,353.62L589.57,353.62L590.29,353.61L591.01,353.61L591.73,353.61L592.45,353.61L593.17,353.61L593.89,353.61L594.61,353.60L595.33,353.60L596.05,353.60L596.78,353.60L597.50,353.60L598.22,353.60L598.94,353.59L599.66,353.59L600.38,353.59L601.10,353.59L601.82,353.59L602.54,353.59L603.26,353.59L603.98,353.59L604.70,353.58L605.42,353.58L606.14,353.58L606.86,353.58L607.58,353.58L608.30,353.58L609.02,353.58L609.74,353.58L610.46,353.58L611.18,353.58L611.90,353.57L612.62,353.57L613.34,353.57L614.07,353.57L614.79,353.57L615.51,353.57L616.23,353.57L616.95,353.57L617.67,353.57L618.39,353.57L619.11,353.57L619.83,353.57L620.55,353.57L621.27,353.57L621.99,353.57L622.71,353.56L623.43,353.56L624.15,353.56L624.87,353.56L625.59,353.56L626.31,353.56L627.03,353.56L627.75,353.56L628.47,353.56L629.19,353.56L629.91,353.56L630.63,353.56L631.36,353.56L632.08,353.56L632.80,353.56L633.52,353.56L634.24,353.56L634.96,353.56L635.68,353.56L636.40,353.56L637.12,353.56L637.84,353.56L638.56,353.56L639.28,353.56L640.00,353.56" fill="none" stroke="#111" stroke-width="1.2" stroke-opacity="0.8" stroke-dasharray="1.2 2.6" stroke-linejoin="round"/><path d="M381.00,352.91L406.90,352.91L423.22,366.70L423.94,366.35L424.66,366.00L425.38,365.65L426.10,365.31L426.82,364.98L427.54,364.65L428.26,364.32L428.98,364.00L429.70,363.69L430.42,363.38L431.14,363.08L431.86,362.79L432.58,362.50L433.30,362.22L434.02,361.95L434.74,361.69L435.46,361.43L436.18,361.19L436.90,360.95L437.62,360.72L438.34,360.50L439.06,360.27L439.78,360.05L440.50,359.83L441.22,359.61L441.94,359.39L442.66,359.18L443.38,358.98L444.10,358.77L444.82,358.57L445.54,358.38L446.26,358.19L446.98,358.00L447.70,357.82L448.42,357.65L449.14,357.48L449.86,357.32L450.58,357.16L451.31,357.02L452.03,356.87L452.75,356.74L453.47,356.61L454.19,356.49L454.91,356.38L455.63,356.28L456.35,356.18L457.07,356.07L457.79,355.98L458.51,355.88L459.23,355.78L459.95,355.69L460.67,355.61L461.39,355.53L462.11,355.45L462.83,355.37L463.55,355.31L464.27,355.25L464.99,355.19L465.71,355.15L466.43,355.11L467.15,355.07L467.87,355.05L468.59,355.02L469.31,355.00L470.03,354.97L470.75,354.95L471.47,354.93L472.19,354.91L472.91,354.89L473.63,354.87L474.35,354.85L475.07,354.83L475.79,354.81L476.51,354.79L477.23,354.77L477.95,354.75L478.67,354.74L479.39,354.72L480.11,354.70L480.83,354.69L481.55,354.67L482.27,354.66L482.99,354.65L483.71,354.63L484.43,354.62L485.15,354.61L485.88,354.59L486.60,354.58L487.32,354.57L488.04,354.56L488.76,354.55L489.48,354.54L490.20,354.53L490.92,354.52L491.64,354.51L492.36,354.50L493.08,354.50L493.80,354.49L494.52,354.48L495.24,354.47L495.96,354.47L496.68,354.46L497.40,354.45L498.12,354.45L498.84,354.44L499.56,354.44L500.28,354.43L501.00,354.43L501.72,354.42L502.44,354.42L503.16,354.41L503.88,354.41L504.60,354.40L505.32,354.40L506.04,354.40L506.76,354.39L507.48,354.39L508.20,354.38L508.92,354.38L509.64,354.37L510.36,354.37L511.08,354.37L511.80,354.36L512.52,354.36L513.24,354.35L513.96,354.35L514.68,354.34L515.40,354.34L516.12,354.34L516.84,354.33L517.56,354.33L518.28,354.32L519.00,354.32L519.73,354.32L520.45,354.31L521.17,354.31L521.89,354.30L522.61,354.30L523.33,354.30L524.05,354.29L524.77,354.29L525.49,354.29L526.21,354.28L526.93,354.28L527.65,354.27L528.37,354.27L529.09,354.27L529.81,354.26L530.53,354.26L531.25,354.26L531.97,354.25L532.69,354.25L533.41,354.25L534.13,354.24L534.85,354.24L535.57,354.24L536.29,354.23L537.01,354.23L537.73,354.23L538.45,354.22L539.17,354.22L539.89,354.22L540.61,354.21L541.33,354.21L542.05,354.21L542.77,354.20L543.49,354.20L544.21,354.20L544.93,354.19L545.65,354.19L546.37,354.19L547.09,354.18L547.81,354.18L548.53,354.18L549.25,354.18L549.97,354.17L550.69,354.17L551.41,354.17L552.13,354.16L552.85,354.16L553.57,354.16L554.30,354.16L555.02,354.15L555.74,354.15L556.46,354.15L557.18,354.14L557.90,354.14L558.62,354.14L559.34,354.14L560.06,354.13L560.78,354.13L561.50,354.13L562.22,354.13L562.94,354.12L563.66,354.12L564.38,354.12L565.10,354.12L565.82,354.11L566.54,354.11L567.26,354.11L567.98,354.11L568.70,354.10L569.42,354.10L570.14,354.10L570.86,354.10L571.58,354.10L572.30,354.09L573.02,354.09L573.74,354.09L574.46,354.09L575.18,354.08L575.90,354.08L576.62,354.08L577.34,354.08L578.06,354.08L578.78,354.07L579.50,354.07L580.22,354.07L580.94,354.07L581.66,354.07L582.38,354.06L583.10,354.06L583.82,354.06L584.54,354.06L585.26,354.06L585.98,354.06L586.70,354.05L587.42,354.05L588.14,354.05L588.87,354.05L589.59,354.05L590.31,354.05L591.03,354.04L591.75,354.04L592.47,354.04L593.19,354.04L593.91,354.04L594.63,354.04L595.35,354.04L596.07,354.03L596.79,354.03L597.51,354.03L598.23,354.03L598.95,354.03L599.67,354.03L600.39,354.03L601.11,354.02L601.83,354.02L602.55,354.02L603.27,354.02L603.99,354.02L604.71,354.02L605.43,354.02L606.15,354.02L606.87,354.01L607.59,354.01L608.31,354.01L609.03,354.01L609.75,354.01L610.47,354.01L611.19,354.01L611.91,354.01L612.63,354.01L613.35,354.01L614.07,354.01L614.79,354.00L615.51,354.00L616.23,354.00L616.95,354.00L617.67,354.00L618.39,354.00L619.11,354.00L619.83,354.00L620.55,354.00L621.27,354.00L621.99,354.00L622.71,354.00L623.44,354.00L624.16,354.00L624.88,354.00L625.60,353.99L626.32,353.99L627.04,353.99L627.76,353.99L628.48,353.99L629.20,353.99L629.92,353.99L630.64,353.99L631.36,353.99L632.08,353.99L632.80,353.99L633.52,353.99L634.24,353.99L634.96,353.99L635.68,353.99L636.40,353.99L637.12,353.99L637.84,353.99L638.56,353.99L639.28,353.99L640.00,353.99" fill="none" stroke="#111" stroke-width="1.2" stroke-opacity="1.0" stroke-dasharray="4 2.5 1.2 2.5" stroke-linejoin="round"/><path d="M381.00,350.54L389.37,327.71L390.11,331.46L390.85,335.13L391.58,338.71L392.32,342.20L393.05,345.60L393.79,348.90L394.52,352.10L395.26,355.20L395.99,358.30L396.73,361.39L397.47,364.42L398.20,367.34L398.94,370.10L399.67,372.64L400.41,374.93L401.14,376.92L401.88,378.81L402.61,380.62L403.35,382.35L404.09,383.97L404.82,385.47L405.56,386.84L406.29,388.05L407.03,389.10L407.76,389.96L408.48,389.93L409.21,389.86L409.93,389.74L410.65,389.58L411.37,389.38L412.09,389.15L412.81,388.89L413.53,388.59L414.25,388.28L414.98,387.94L415.70,387.58L416.42,387.21L417.14,386.83L417.86,386.44L418.58,386.02L419.30,385.47L420.02,384.80L420.75,384.03L421.47,383.19L422.19,382.29L422.91,381.34L423.63,380.38L424.35,379.42L425.07,378.47L425.79,377.57L426.52,376.72L427.24,375.94L427.96,375.17L428.68,374.39L429.40,373.59L430.12,372.79L430.84,371.99L431.56,371.20L432.29,370.41L433.01,369.64L433.73,368.88L434.45,368.15L435.17,367.45L435.89,366.78L436.61,366.15L437.33,365.57L438.06,365.03L438.78,364.54L439.50,364.12L440.22,363.74L440.94,363.38L441.66,363.02L442.38,362.69L443.10,362.36L443.82,362.05L444.55,361.75L445.27,361.47L445.99,361.20L446.71,360.95L447.43,360.72L448.15,360.50L448.87,360.30L449.59,360.11L450.32,359.94L451.04,359.79L451.76,359.66L452.48,359.53L453.20,359.41L453.92,359.30L454.64,359.19L455.36,359.09L456.09,358.99L456.81,358.90L457.53,358.81L458.25,358.73L458.97,358.65L459.69,358.57L460.41,358.50L461.13,358.43L461.86,358.36L462.58,358.30L463.30,358.24L464.02,358.18L464.74,358.13L465.46,358.08L466.18,358.03L466.90,357.98L467.63,357.94L468.35,357.89L469.07,357.85L469.79,357.80L470.51,357.76L471.23,357.72L471.95,357.68L472.67,357.64L473.40,357.60L474.12,357.57L474.84,357.53L475.56,357.50L476.28,357.46L477.00,357.43L477.72,357.40L478.44,357.37L479.17,357.33L479.89,357.31L480.61,357.28L481.33,357.25L482.05,357.22L482.77,357.19L483.49,357.17L484.21,357.14L484.94,357.12L485.66,357.09L486.38,357.07L487.10,357.05L487.82,357.03L488.54,357.00L489.26,356.98L489.98,356.96L490.70,356.94L491.43,356.92L492.15,356.90L492.87,356.88L493.59,356.86L494.31,356.84L495.03,356.82L495.75,356.80L496.47,356.78L497.20,356.76L497.92,356.74L498.64,356.73L499.36,356.71L500.08,356.69L500.80,356.67L501.52,356.66L502.24,356.64L502.97,356.62L503.69,356.60L504.41,356.59L505.13,356.57L505.85,356.56L506.57,356.54L507.29,356.52L508.01,356.51L508.74,356.49L509.46,356.48L510.18,356.46L510.90,356.45L511.62,356.43L512.34,356.42L513.06,356.40L513.78,356.39L514.51,356.37L515.23,356.36L515.95,356.35L516.67,356.33L517.39,356.32L518.11,356.30L518.83,356.29L519.55,356.28L520.28,356.26L521.00,356.25L521.72,356.24L522.44,356.22L523.16,356.21L523.88,356.20L524.60,356.19L525.32,356.17L526.05,356.16L526.77,356.15L527.49,356.14L528.21,356.12L528.93,356.11L529.65,356.10L530.37,356.09L531.09,356.08L531.82,356.06L532.54,356.05L533.26,356.04L533.98,356.03L534.70,356.02L535.42,356.01L536.14,355.99L536.86,355.98L537.59,355.97L538.31,355.96L539.03,355.95L539.75,355.94L540.47,355.93L541.19,355.91L541.91,355.90L542.63,355.89L543.35,355.88L544.08,355.87L544.80,355.86L545.52,355.85L546.24,355.83L546.96,355.82L547.68,355.81L548.40,355.80L549.12,355.79L549.85,355.78L550.57,355.77L551.29,355.75L552.01,355.74L552.73,355.73L553.45,355.72L554.17,355.71L554.89,355.70L555.62,355.69L556.34,355.68L557.06,355.67L557.78,355.65L558.50,355.64L559.22,355.63L559.94,355.62L560.66,355.61L561.39,355.60L562.11,355.59L562.83,355.58L563.55,355.57L564.27,355.55L564.99,355.54L565.71,355.53L566.43,355.52L567.16,355.51L567.88,355.50L568.60,355.49L569.32,355.48L570.04,355.47L570.76,355.46L571.48,355.45L572.20,355.44L572.93,355.43L573.65,355.42L574.37,355.41L575.09,355.39L575.81,355.38L576.53,355.37L577.25,355.36L577.97,355.35L578.70,355.34L579.42,355.33L580.14,355.32L580.86,355.31L581.58,355.30L582.30,355.29L583.02,355.28L583.74,355.27L584.47,355.26L585.19,355.25L585.91,355.24L586.63,355.23L587.35,355.22L588.07,355.21L588.79,355.20L589.51,355.19L590.24,355.18L590.96,355.17L591.68,355.16L592.40,355.16L593.12,355.15L593.84,355.14L594.56,355.13L595.28,355.12L596.00,355.11L596.73,355.10L597.45,355.09L598.17,355.08L598.89,355.07L599.61,355.06L600.33,355.05L601.05,355.04L601.77,355.04L602.50,355.03L603.22,355.02L603.94,355.01L604.66,355.00L605.38,354.99L606.10,354.98L606.82,354.97L607.54,354.97L608.27,354.96L608.99,354.95L609.71,354.94L610.43,354.93L611.15,354.92L611.87,354.91L612.59,354.91L613.31,354.90L614.04,354.89L614.76,354.88L615.48,354.87L616.20,354.87L616.92,354.86L617.64,354.85L618.36,354.84L619.08,354.83L619.81,354.83L620.53,354.82L621.25,354.81L621.97,354.80L622.69,354.80L623.41,354.79L624.13,354.78L624.85,354.78L625.58,354.77L626.30,354.76L627.02,354.75L627.74,354.75L628.46,354.74L629.18,354.73L629.90,354.73L630.62,354.72L631.35,354.71L632.07,354.71L632.79,354.70L633.51,354.69L634.23,354.69L634.95,354.68L635.67,354.67L636.39,354.67L637.12,354.66L637.84,354.65L638.56,354.65L639.28,354.64L640.00,354.64" fill="none" stroke="#111" stroke-width="1.2" stroke-opacity="1.0" stroke-dasharray="4 2.5" stroke-linejoin="round"/><path d="M381.00,350.54L389.37,327.71L390.11,331.46L390.85,335.13L391.58,338.71L392.32,342.20L393.05,345.60L393.79,348.90L394.52,352.10L395.26,355.20L395.99,358.30L396.73,361.39L397.47,364.42L398.20,367.34L398.94,370.10L399.67,372.64L400.41,374.93L401.14,376.92L401.88,378.81L402.61,380.62L403.35,382.35L404.09,383.97L404.82,385.47L405.56,386.84L406.29,388.05L407.03,389.10L407.76,389.96L408.48,390.92L409.21,391.85L409.93,392.74L410.65,393.57L411.37,394.34L412.09,395.03L412.81,395.62L413.53,396.11L414.25,396.48L414.98,396.76L415.70,397.04L416.42,397.30L417.14,397.54L417.86,397.76L418.58,397.96L419.30,398.12L420.02,398.25L420.75,398.34L421.47,398.39L422.19,398.40L422.91,398.38L423.63,398.34L424.35,398.28L425.07,398.20L425.79,398.10L426.52,397.99L427.24,397.86L427.96,397.73L428.68,397.58L429.40,397.43L430.12,397.27L430.84,397.10L431.56,396.93L432.29,396.77L433.01,396.60L433.73,396.43L434.45,396.24L435.17,396.02L435.89,395.78L436.61,395.53L437.33,395.26L438.06,394.97L438.78,394.68L439.50,394.38L440.22,394.07L440.94,393.76L441.66,393.44L442.38,393.13L443.10,392.83L443.82,392.53L444.55,392.24L445.27,391.97L445.99,391.69L446.71,391.41L447.43,391.13L448.15,390.86L448.87,390.58L449.59,390.30L450.32,390.03L451.04,389.75L451.76,389.47L452.48,389.20L453.20,388.93L453.92,388.66L454.64,388.39L455.36,388.13L456.09,387.86L456.81,387.59L457.53,387.31L458.25,387.04L458.97,386.76L459.69,386.49L460.41,386.22L461.13,385.96L461.86,385.70L462.58,385.46L463.30,385.22L464.02,384.99L464.74,384.77L465.46,384.57L466.18,384.37L466.90,384.18L467.63,383.99L468.35,383.81L469.07,383.63L469.79,383.45L470.51,383.28L471.23,383.11L471.95,382.95L472.67,382.78L473.40,382.62L474.12,382.46L474.84,382.31L475.56,382.16L476.28,382.01L477.00,381.86L477.72,381.71L478.44,381.57L479.17,381.43L479.89,381.29L480.61,381.15L481.33,381.01L482.05,380.88L482.77,380.74L483.49,380.61L484.21,380.48L484.94,380.34L485.66,380.21L486.38,380.08L487.10,379.95L487.82,379.82L488.54,379.70L489.26,379.57L489.98,379.44L490.70,379.32L491.43,379.20L492.15,379.08L492.87,378.96L493.59,378.85L494.31,378.73L495.03,378.62L495.75,378.51L496.47,378.40L497.20,378.29L497.92,378.18L498.64,378.07L499.36,377.96L500.08,377.85L500.80,377.75L501.52,377.64L502.24,377.53L502.97,377.42L503.69,377.31L504.41,377.20L505.13,377.09L505.85,376.98L506.57,376.87L507.29,376.75L508.01,376.64L508.74,376.53L509.46,376.42L510.18,376.31L510.90,376.20L511.62,376.09L512.34,375.97L513.06,375.86L513.78,375.75L514.51,375.64L515.23,375.53L515.95,375.42L516.67,375.30L517.39,375.19L518.11,375.08L518.83,374.97L519.55,374.86L520.28,374.75L521.00,374.64L521.72,374.53L522.44,374.41L523.16,374.30L523.88,374.19L524.60,374.08L525.32,373.97L526.05,373.86L526.77,373.75L527.49,373.64L528.21,373.53L528.93,373.42L529.65,373.30L530.37,373.19L531.09,373.08L531.82,372.97L532.54,372.86L533.26,372.75L533.98,372.64L534.70,372.53L535.42,372.42L536.14,372.31L536.86,372.20L537.59,372.09L538.31,371.98L539.03,371.87L539.75,371.76L540.47,371.66L541.19,371.55L541.91,371.44L542.63,371.33L543.35,371.22L544.08,371.11L544.80,371.00L545.52,370.89L546.24,370.79L546.96,370.68L547.68,370.57L548.40,370.46L549.12,370.35L549.85,370.25L550.57,370.14L551.29,370.03L552.01,369.93L552.73,369.82L553.45,369.71L554.17,369.61L554.89,369.50L555.62,369.39L556.34,369.29L557.06,369.18L557.78,369.08L558.50,368.97L559.22,368.86L559.94,368.76L560.66,368.65L561.39,368.55L562.11,368.45L562.83,368.34L563.55,368.24L564.27,368.13L564.99,368.03L565.71,367.93L566.43,367.82L567.16,367.72L567.88,367.62L568.60,367.52L569.32,367.41L570.04,367.31L570.76,367.21L571.48,367.11L572.20,367.00L572.93,366.90L573.65,366.80L574.37,366.70L575.09,366.59L575.81,366.49L576.53,366.39L577.25,366.28L577.97,366.18L578.70,366.08L579.42,365.97L580.14,365.87L580.86,365.77L581.58,365.66L582.30,365.56L583.02,365.46L583.74,365.35L584.47,365.25L585.19,365.15L585.91,365.04L586.63,364.94L587.35,364.84L588.07,364.73L588.79,364.63L589.51,364.53L590.24,364.43L590.96,364.32L591.68,364.22L592.40,364.12L593.12,364.01L593.84,363.91L594.56,363.81L595.28,363.71L596.00,363.61L596.73,363.50L597.45,363.40L598.17,363.30L598.89,363.20L599.61,363.10L600.33,363.00L601.05,362.90L601.77,362.80L602.50,362.70L603.22,362.60L603.94,362.50L604.66,362.40L605.38,362.30L606.10,362.20L606.82,362.10L607.54,362.01L608.27,361.91L608.99,361.81L609.71,361.71L610.43,361.62L611.15,361.52L611.87,361.43L612.59,361.33L613.31,361.23L614.04,361.14L614.76,361.05L615.48,360.95L616.20,360.86L616.92,360.76L617.64,360.67L618.36,360.58L619.08,360.49L619.81,360.40L620.53,360.31L621.25,360.21L621.97,360.12L622.69,360.04L623.41,359.95L624.13,359.86L624.85,359.77L625.58,359.68L626.30,359.60L627.02,359.51L627.74,359.42L628.46,359.34L629.18,359.25L629.90,359.17L630.62,359.09L631.35,359.00L632.07,358.92L632.79,358.84L633.51,358.76L634.23,358.68L634.95,358.60L635.67,358.52L636.39,358.44L637.12,358.37L637.84,358.29L638.56,358.22L639.28,358.15L640.00,358.08" fill="none" stroke="#111" stroke-width="1.2" stroke-opacity="1.0" stroke-dasharray="4 2.5 1.2 2.7 1.2 2.7" stroke-dashoffset="3.2" stroke-linejoin="round"/><path d="M381.00,352.91L640.00,352.91" fill="none" stroke="#333" stroke-width="1.2" stroke-opacity="1.0" stroke-linejoin="round"/><path d="M538.00,392.00H552.40" fill="none" stroke="#000" stroke-width="1.2" stroke-opacity="1.0"/><text transform="translate(560.30,396.80) scale(0.96,1)" font-size="13" fill="#222">Steady state</text><path d="M538.00,407.35H552.40" fill="none" stroke="#000" stroke-width="1.2" stroke-opacity="1.0" stroke-dasharray="4 2.5"/><text transform="translate(560.30,412.15) scale(0.96,1)" font-size="13" fill="#222">Acute d 0</text><path d="M538.00,422.70H552.40" fill="none" stroke="#000" stroke-width="1.2" stroke-opacity="1.0" stroke-dasharray="4 2.5 1.2 2.5"/><text transform="translate(560.30,427.50) scale(0.96,1)" font-size="13" fill="#222">Acute d 3</text><path d="M538.00,438.05H552.40" fill="none" stroke="#000" stroke-width="1.2" stroke-opacity="0.8" stroke-dasharray="1.2 2.6"/><text transform="translate(560.30,442.85) scale(0.96,1)" font-size="13" fill="#222">Acute d 9</text><path d="M538.00,453.40H552.40" fill="none" stroke="#000" stroke-width="1.2" stroke-opacity="1.0" stroke-dasharray="4 2.5 1.2 2.7 1.2 2.7"/><text transform="translate(560.30,458.20) scale(0.96,1)" font-size="13" fill="#222">Chronic d 0</text></g>
<g><text transform="translate(5.50,543.50) scale(0.92,1)" font-size="16.5" font-weight="bold" fill="#000">C</text><path d="M48.00,571.20V745.50H309.00" fill="none" stroke="#111" stroke-width="1.35"/><path d="M44.50,745.50H48.00" stroke="#1a1a1a" stroke-width="1.4"/><text transform="translate(43.00,749.20) scale(0.97,1)" font-size="10.3" font-weight="bold" text-anchor="end" fill="#000">0</text><path d="M44.50,701.92H48.00" stroke="#1a1a1a" stroke-width="1.4"/><text transform="translate(43.00,705.62) scale(0.97,1)" font-size="10.3" font-weight="bold" text-anchor="end" fill="#000">500</text><path d="M44.50,658.35H48.00" stroke="#1a1a1a" stroke-width="1.4"/><text transform="translate(43.00,662.05) scale(0.97,1)" font-size="10.3" font-weight="bold" text-anchor="end" fill="#000">1000</text><path d="M44.50,614.78H48.00" stroke="#1a1a1a" stroke-width="1.4"/><text transform="translate(43.00,618.48) scale(0.97,1)" font-size="10.3" font-weight="bold" text-anchor="end" fill="#000">1500</text><path d="M44.50,571.20H48.00" stroke="#1a1a1a" stroke-width="1.4"/><text transform="translate(43.00,574.90) scale(0.97,1)" font-size="10.3" font-weight="bold" text-anchor="end" fill="#000">2000</text><path d="M48.00,745.50V749.00" stroke="#1a1a1a" stroke-width="1.4"/><text transform="translate(48.00,760.50) scale(0.97,1)" font-size="10.3" font-weight="bold" text-anchor="middle" fill="#000">0</text><path d="M91.50,745.50V749.00" stroke="#1a1a1a" stroke-width="1.4"/><text transform="translate(91.50,760.50) scale(0.97,1)" font-size="10.3" font-weight="bold" text-anchor="middle" fill="#000">5</text><path d="M135.00,745.50V749.00" stroke="#1a1a1a" stroke-width="1.4"/><text transform="translate(135.00,760.50) scale(0.97,1)" font-size="10.3" font-weight="bold" text-anchor="middle" fill="#000">10</text><path d="M178.50,745.50V749.00" stroke="#1a1a1a" stroke-width="1.4"/><text transform="translate(178.50,760.50) scale(0.97,1)" font-size="10.3" font-weight="bold" text-anchor="middle" fill="#000">15</text><path d="M222.00,745.50V749.00" stroke="#1a1a1a" stroke-width="1.4"/><text transform="translate(222.00,760.50) scale(0.97,1)" font-size="10.3" font-weight="bold" text-anchor="middle" fill="#000">20</text><path d="M265.50,745.50V749.00" stroke="#1a1a1a" stroke-width="1.4"/><text transform="translate(265.50,760.50) scale(0.97,1)" font-size="10.3" font-weight="bold" text-anchor="middle" fill="#000">25</text><path d="M309.00,745.50V749.00" stroke="#1a1a1a" stroke-width="1.4"/><text transform="translate(309.00,760.50) scale(0.97,1)" font-size="10.3" font-weight="bold" text-anchor="middle" fill="#000">30</text><text x="178.50" y="778.20" font-size="14.2" text-anchor="middle" fill="#111">Time (d)</text><text transform="translate(13.90,658.35) rotate(-90)" x="0" y="0" font-size="16" text-anchor="middle" fill="#111">RID-predicted TBS (μmol)</text><path d="M48.00,590.81L309.00,590.81" fill="none" stroke="#111" stroke-width="1.2" stroke-opacity="0.8" stroke-dasharray="1.2 2.6" stroke-linejoin="round"/><path d="M48.00,590.81L74.10,590.81L83.32,611.20L84.05,610.12L84.77,609.06L85.50,608.03L86.22,607.03L86.95,606.06L87.68,605.14L88.40,604.26L89.13,603.43L89.85,602.65L90.58,601.94L91.30,601.24L92.03,600.54L92.76,599.86L93.48,599.19L94.21,598.54L94.93,597.91L95.66,597.30L96.38,596.73L97.11,596.20L97.84,595.71L98.56,595.26L99.29,594.86L100.01,594.52L100.74,594.23L101.46,594.00L102.19,593.79L102.91,593.58L103.64,593.39L104.37,593.20L105.09,593.03L105.82,592.86L106.54,592.70L107.27,592.55L107.99,592.41L108.72,592.28L109.45,592.16L110.17,592.04L110.90,591.93L111.62,591.83L112.35,591.74L113.07,591.65L113.80,591.57L114.53,591.50L115.25,591.43L115.98,591.37L116.70,591.31L117.43,591.25L118.15,591.19L118.88,591.14L119.60,591.08L120.33,591.03L121.06,590.99L121.78,590.94L122.51,590.91L123.23,590.87L123.96,590.85L124.68,590.83L125.41,590.81L126.14,590.81L126.86,590.81L127.59,590.81L128.31,590.81L129.04,590.81L129.76,590.81L130.49,590.81L131.22,590.81L131.94,590.81L132.67,590.81L133.39,590.81L134.12,590.81L134.84,590.81L135.57,590.81L136.29,590.81L137.02,590.81L137.75,590.81L138.47,590.81L139.20,590.81L139.92,590.81L140.65,590.81L141.37,590.81L142.10,590.81L142.83,590.81L143.55,590.81L144.28,590.81L145.00,590.81L145.73,590.81L146.45,590.81L147.18,590.81L147.91,590.81L148.63,590.81L149.36,590.81L150.08,590.81L150.81,590.81L151.53,590.81L152.26,590.81L152.98,590.81L153.71,590.81L154.44,590.81L155.16,590.81L155.89,590.81L156.61,590.81L157.34,590.81L158.06,590.81L158.79,590.81L159.52,590.81L160.24,590.81L160.97,590.81L161.69,590.81L162.42,590.81L163.14,590.81L163.87,590.81L164.60,590.81L165.32,590.81L166.05,590.81L166.77,590.81L167.50,590.81L168.22,590.81L168.95,590.81L169.67,590.81L170.40,590.81L171.13,590.81L171.85,590.81L172.58,590.81L173.30,590.81L174.03,590.81L174.75,590.81L175.48,590.81L176.21,590.81L176.93,590.81L177.66,590.81L178.38,590.81L179.11,590.81L179.83,590.81L180.56,590.81L181.29,590.81L182.01,590.81L182.74,590.81L183.46,590.81L184.19,590.81L184.91,590.81L185.64,590.81L186.36,590.81L187.09,590.81L187.82,590.81L188.54,590.81L189.27,590.81L189.99,590.81L190.72,590.81L191.44,590.81L192.17,590.81L192.90,590.81L193.62,590.81L194.35,590.81L195.07,590.81L195.80,590.81L196.52,590.81L197.25,590.81L197.98,590.81L198.70,590.81L199.43,590.81L200.15,590.81L200.88,590.81L201.60,590.81L202.33,590.81L203.05,590.81L203.78,590.81L204.51,590.81L205.23,590.81L205.96,590.81L206.68,590.81L207.41,590.81L208.13,590.81L208.86,590.81L209.59,590.81L210.31,590.81L211.04,590.81L211.76,590.81L212.49,590.81L213.21,590.81L213.94,590.81L214.67,590.81L215.39,590.81L216.12,590.81L216.84,590.81L217.57,590.81L218.29,590.81L219.02,590.81L219.74,590.81L220.47,590.81L221.20,590.81L221.92,590.81L222.65,590.81L223.37,590.81L224.10,590.81L224.82,590.81L225.55,590.81L226.28,590.81L227.00,590.81L227.73,590.81L228.45,590.81L229.18,590.81L229.90,590.81L230.63,590.81L231.36,590.81L232.08,590.81L232.81,590.81L233.53,590.81L234.26,590.81L234.98,590.81L235.71,590.81L236.43,590.81L237.16,590.81L237.89,590.81L238.61,590.81L239.34,590.81L240.06,590.81L240.79,590.81L241.51,590.81L242.24,590.81L242.97,590.81L243.69,590.81L244.42,590.81L245.14,590.81L245.87,590.81L246.59,590.81L247.32,590.81L248.05,590.81L248.77,590.81L249.50,590.81L250.22,590.81L250.95,590.81L251.67,590.81L252.40,590.81L253.12,590.81L253.85,590.81L254.58,590.81L255.30,590.81L256.03,590.81L256.75,590.81L257.48,590.81L258.20,590.81L258.93,590.81L259.66,590.81L260.38,590.81L261.11,590.81L261.83,590.81L262.56,590.81L263.28,590.81L264.01,590.81L264.74,590.81L265.46,590.81L266.19,590.81L266.91,590.81L267.64,590.81L268.36,590.81L269.09,590.81L269.81,590.81L270.54,590.81L271.27,590.81L271.99,590.81L272.72,590.81L273.44,590.81L274.17,590.81L274.89,590.81L275.62,590.81L276.35,590.81L277.07,590.81L277.80,590.81L278.52,590.81L279.25,590.81L279.97,590.81L280.70,590.81L281.43,590.81L282.15,590.81L282.88,590.81L283.60,590.81L284.33,590.81L285.05,590.81L285.78,590.81L286.50,590.81L287.23,590.81L287.96,590.81L288.68,590.81L289.41,590.81L290.13,590.81L290.86,590.81L291.58,590.81L292.31,590.81L293.04,590.81L293.76,590.81L294.49,590.81L295.21,590.81L295.94,590.81L296.66,590.81L297.39,590.81L298.12,590.81L298.84,590.81L299.57,590.81L300.29,590.81L301.02,590.81L301.74,590.81L302.47,590.81L303.19,590.81L303.92,590.81L304.65,590.81L305.37,590.81L306.10,590.81L306.82,590.81L307.55,590.81L308.27,590.81L309.00,590.81" fill="none" stroke="#111" stroke-width="1.2" stroke-opacity="1.0" stroke-dasharray="4 2.5 1.2 2.5" stroke-linejoin="round"/><path d="M48.00,590.81L48.74,595.28L49.48,599.69L50.22,604.04L50.97,608.32L51.71,612.54L52.45,616.69L53.19,620.78L53.93,624.80L54.67,628.76L55.42,632.60L56.16,636.30L56.90,639.90L57.64,643.47L58.38,647.06L59.12,650.73L59.87,654.53L60.61,658.50L61.35,662.59L62.09,666.78L62.83,671.07L63.57,675.43L64.33,676.09L65.08,676.71L65.83,677.25L66.59,677.68L67.34,677.96L68.10,678.05L68.85,678.05L69.61,678.05L70.36,678.05L71.11,678.05L71.87,678.05L72.62,678.05L73.35,677.07L74.07,675.99L74.80,674.80L75.52,673.51L76.25,672.13L76.97,670.67L77.70,669.13L78.42,667.52L79.15,665.86L79.87,664.13L80.60,662.24L81.32,660.16L82.05,657.94L82.77,655.60L83.50,653.16L84.22,650.66L84.95,648.14L85.67,645.61L86.40,643.11L87.12,640.65L87.85,638.11L88.57,635.46L89.30,632.76L90.02,630.03L90.75,627.32L91.47,624.67L92.20,622.13L92.92,619.72L93.65,617.50L94.37,615.46L95.10,613.46L95.82,611.48L96.55,609.55L97.27,607.71L98.00,605.96L98.72,604.36L99.45,602.91L100.17,601.65L100.90,600.61L101.62,599.74L102.35,598.93L103.07,598.16L103.80,597.43L104.52,596.75L105.25,596.12L105.98,595.54L106.70,595.01L107.43,594.53L108.15,594.11L108.88,593.74L109.60,593.43L110.33,593.18L111.05,592.95L111.78,592.74L112.50,592.54L113.23,592.35L113.95,592.18L114.68,592.02L115.40,591.88L116.13,591.75L116.85,591.64L117.58,591.55L118.30,591.47L119.03,591.42L119.75,591.37L120.48,591.32L121.20,591.27L121.93,591.23L122.65,591.19L123.38,591.15L124.10,591.11L124.83,591.07L125.55,591.04L126.28,591.01L127.00,590.98L127.73,590.95L128.45,590.92L129.18,590.90L129.90,590.88L130.63,590.86L131.35,590.85L132.08,590.83L132.80,590.82L133.53,590.81L134.25,590.81L134.98,590.81L135.70,590.81L136.43,590.81L137.15,590.81L137.88,590.81L138.60,590.81L139.33,590.81L140.05,590.81L140.78,590.81L141.50,590.81L142.23,590.81L142.95,590.81L143.68,590.81L144.40,590.81L145.13,590.81L145.85,590.81L146.58,590.81L147.31,590.81L148.03,590.81L148.76,590.81L149.48,590.81L150.21,590.81L150.93,590.81L151.66,590.81L152.38,590.81L153.11,590.81L153.83,590.81L154.56,590.81L155.28,590.81L156.01,590.81L156.73,590.81L157.46,590.81L158.18,590.81L158.91,590.81L159.63,590.81L160.36,590.81L161.08,590.81L161.81,590.81L162.53,590.81L163.26,590.81L163.98,590.81L164.71,590.81L165.43,590.81L166.16,590.81L166.88,590.81L167.61,590.81L168.33,590.81L169.06,590.81L169.78,590.81L170.51,590.81L171.23,590.81L171.96,590.81L172.68,590.81L173.41,590.81L174.13,590.81L174.86,590.81L175.58,590.81L176.31,590.81L177.03,590.81L177.76,590.81L178.48,590.81L179.21,590.81L179.93,590.81L180.66,590.81L181.38,590.81L182.11,590.81L182.83,590.81L183.56,590.81L184.28,590.81L185.01,590.81L185.73,590.81L186.46,590.81L187.19,590.81L187.91,590.81L188.64,590.81L189.36,590.81L190.09,590.81L190.81,590.81L191.54,590.81L192.26,590.81L192.99,590.81L193.71,590.81L194.44,590.81L195.16,590.81L195.89,590.81L196.61,590.81L197.34,590.81L198.06,590.81L198.79,590.81L199.51,590.81L200.24,590.81L200.96,590.81L201.69,590.81L202.41,590.81L203.14,590.81L203.86,590.81L204.59,590.81L205.31,590.81L206.04,590.81L206.76,590.81L207.49,590.81L208.21,590.81L208.94,590.81L209.66,590.81L210.39,590.81L211.11,590.81L211.84,590.81L212.56,590.81L213.29,590.81L214.01,590.81L214.74,590.81L215.46,590.81L216.19,590.81L216.91,590.81L217.64,590.81L218.36,590.81L219.09,590.81L219.81,590.81L220.54,590.81L221.26,590.81L221.99,590.81L222.71,590.81L223.44,590.81L224.16,590.81L224.89,590.81L225.61,590.81L226.34,590.81L227.06,590.81L227.79,590.81L228.52,590.81L229.24,590.81L229.97,590.81L230.69,590.81L231.42,590.81L232.14,590.81L232.87,590.81L233.59,590.81L234.32,590.81L235.04,590.81L235.77,590.81L236.49,590.81L237.22,590.81L237.94,590.81L238.67,590.81L239.39,590.81L240.12,590.81L240.84,590.81L241.57,590.81L242.29,590.81L243.02,590.81L243.74,590.81L244.47,590.81L245.19,590.81L245.92,590.81L246.64,590.81L247.37,590.81L248.09,590.81L248.82,590.81L249.54,590.81L250.27,590.81L250.99,590.81L251.72,590.81L252.44,590.81L253.17,590.81L253.89,590.81L254.62,590.81L255.34,590.81L256.07,590.81L256.79,590.81L257.52,590.81L258.24,590.81L258.97,590.81L259.69,590.81L260.42,590.81L261.14,590.81L261.87,590.81L262.59,590.81L263.32,590.81L264.04,590.81L264.77,590.81L265.49,590.81L266.22,590.81L266.94,590.81L267.67,590.81L268.40,590.81L269.12,590.81L269.85,590.81L270.57,590.81L271.30,590.81L272.02,590.81L272.75,590.81L273.47,590.81L274.20,590.81L274.92,590.81L275.65,590.81L276.37,590.81L277.10,590.81L277.82,590.81L278.55,590.81L279.27,590.81L280.00,590.81L280.72,590.81L281.45,590.81L282.17,590.81L282.90,590.81L283.62,590.81L284.35,590.81L285.07,590.81L285.80,590.81L286.52,590.81L287.25,590.81L287.97,590.81L288.70,590.81L289.42,590.81L290.15,590.81L290.87,590.81L291.60,590.81L292.32,590.81L293.05,590.81L293.77,590.81L294.50,590.81L295.22,590.81L295.95,590.81L296.67,590.81L297.40,590.81L298.12,590.81L298.85,590.81L299.57,590.81L300.30,590.81L301.02,590.81L301.75,590.81L302.47,590.81L303.20,590.81L303.92,590.81L304.65,590.81L305.37,590.81L306.10,590.81L306.82,590.81L307.55,590.81L308.27,590.81L309.00,590.81" fill="none" stroke="#111" stroke-width="1.2" stroke-opacity="1.0" stroke-dasharray="4 2.5" stroke-linejoin="round"/><path d="M48.00,590.81L48.74,595.28L49.48,599.69L50.22,604.04L50.97,608.32L51.71,612.54L52.45,616.69L53.19,620.78L53.93,624.80L54.67,628.76L55.42,632.60L56.16,636.30L56.90,639.90L57.64,643.47L58.38,647.06L59.12,650.73L59.87,654.53L60.61,658.50L61.35,662.59L62.09,666.78L62.83,671.07L63.57,675.43L64.30,679.35L65.03,682.91L65.75,685.84L66.48,688.00L67.20,689.83L67.93,691.43L68.66,692.82L69.38,694.01L70.11,695.03L70.83,695.95L71.56,696.87L72.29,697.74L73.01,698.51L73.74,699.13L74.46,699.55L75.19,699.74L75.92,699.71L76.64,699.59L77.37,699.39L78.10,699.11L78.82,698.76L79.55,698.36L80.27,697.91L81.00,697.42L81.73,696.86L82.45,695.94L83.18,694.70L83.90,693.27L84.63,691.75L85.36,690.26L86.08,688.85L86.81,687.40L87.53,685.91L88.26,684.37L88.99,682.76L89.71,681.08L90.44,679.31L91.17,677.42L91.89,675.35L92.62,673.14L93.34,670.86L94.07,668.53L94.80,666.22L95.52,663.96L96.25,661.77L96.97,659.60L97.70,657.43L98.43,655.26L99.15,653.10L99.88,650.93L100.60,648.76L101.33,646.57L102.06,644.33L102.78,642.06L103.51,639.82L104.24,637.63L104.96,635.53L105.69,633.56L106.41,631.68L107.14,629.89L107.87,628.15L108.59,626.45L109.32,624.78L110.04,623.12L110.77,621.44L111.50,619.73L112.22,617.98L112.95,616.25L113.67,614.56L114.40,612.97L115.13,611.51L115.85,610.22L116.58,609.07L117.31,608.00L118.03,607.01L118.76,606.06L119.48,605.14L120.21,604.22L120.94,603.29L121.66,602.34L122.39,601.38L123.11,600.43L123.84,599.51L124.57,598.64L125.29,597.83L126.02,597.11L126.75,596.44L127.47,595.81L128.20,595.22L128.92,594.66L129.65,594.13L130.38,593.64L131.10,593.19L131.83,592.74L132.55,592.31L133.28,591.91L134.01,591.56L134.73,591.27L135.46,591.05L136.18,590.85L136.91,590.67L137.64,590.49L138.36,590.33L139.09,590.18L139.82,590.04L140.54,589.90L141.27,589.78L141.99,589.66L142.72,589.54L143.45,589.43L144.17,589.33L144.90,589.23L145.62,589.13L146.35,589.03L147.08,588.93L147.80,588.84L148.53,588.74L149.25,588.64L149.98,588.55L150.71,588.45L151.43,588.36L152.16,588.27L152.89,588.18L153.61,588.09L154.34,588.00L155.06,587.92L155.79,587.84L156.52,587.77L157.24,587.70L157.97,587.63L158.69,587.57L159.42,587.52L160.15,587.47L160.87,587.42L161.60,587.38L162.32,587.34L163.05,587.31L163.78,587.27L164.50,587.24L165.23,587.20L165.96,587.17L166.68,587.14L167.41,587.11L168.13,587.08L168.86,587.05L169.59,587.02L170.31,586.99L171.04,586.97L171.76,586.95L172.49,586.92L173.22,586.90L173.94,586.88L174.67,586.87L175.39,586.85L176.12,586.84L176.85,586.82L177.57,586.81L178.30,586.80L179.03,586.79L179.75,586.79L180.48,586.78L181.20,586.77L181.93,586.76L182.66,586.76L183.38,586.75L184.11,586.74L184.83,586.73L185.56,586.73L186.29,586.72L187.01,586.71L187.74,586.71L188.46,586.70L189.19,586.69L189.92,586.69L190.64,586.68L191.37,586.68L192.10,586.67L192.82,586.67L193.55,586.66L194.27,586.66L195.00,586.65L195.73,586.65L196.45,586.64L197.18,586.64L197.90,586.63L198.63,586.63L199.36,586.62L200.08,586.62L200.81,586.61L201.53,586.61L202.26,586.61L202.99,586.60L203.71,586.60L204.44,586.60L205.17,586.59L205.89,586.59L206.62,586.59L207.34,586.58L208.07,586.58L208.80,586.58L209.52,586.57L210.25,586.57L210.97,586.57L211.70,586.57L212.43,586.56L213.15,586.56L213.88,586.56L214.60,586.56L215.33,586.55L216.06,586.55L216.78,586.55L217.51,586.55L218.24,586.55L218.96,586.54L219.69,586.54L220.41,586.54L221.14,586.54L221.87,586.54L222.59,586.54L223.32,586.54L224.04,586.53L224.77,586.53L225.50,586.53L226.22,586.53L226.95,586.53L227.68,586.53L228.40,586.53L229.13,586.53L229.85,586.52L230.58,586.52L231.31,586.52L232.03,586.52L232.76,586.52L233.48,586.52L234.21,586.52L234.94,586.52L235.66,586.51L236.39,586.51L237.11,586.51L237.84,586.51L238.57,586.51L239.29,586.51L240.02,586.51L240.75,586.51L241.47,586.51L242.20,586.50L242.92,586.50L243.65,586.50L244.38,586.50L245.10,586.50L245.83,586.50L246.55,586.50L247.28,586.50L248.01,586.50L248.73,586.49L249.46,586.49L250.18,586.49L250.91,586.49L251.64,586.49L252.36,586.49L253.09,586.49L253.82,586.49L254.54,586.49L255.27,586.49L255.99,586.49L256.72,586.48L257.45,586.48L258.17,586.48L258.90,586.48L259.62,586.48L260.35,586.48L261.08,586.48L261.80,586.48L262.53,586.48L263.25,586.48L263.98,586.48L264.71,586.48L265.43,586.47L266.16,586.47L266.89,586.47L267.61,586.47L268.34,586.47L269.06,586.47L269.79,586.47L270.52,586.47L271.24,586.47L271.97,586.47L272.69,586.47L273.42,586.47L274.15,586.47L274.87,586.47L275.60,586.47L276.32,586.46L277.05,586.46L277.78,586.46L278.50,586.46L279.23,586.46L279.96,586.46L280.68,586.46L281.41,586.46L282.13,586.46L282.86,586.46L283.59,586.46L284.31,586.46L285.04,586.46L285.76,586.46L286.49,586.46L287.22,586.46L287.94,586.46L288.67,586.46L289.39,586.46L290.12,586.46L290.85,586.46L291.57,586.46L292.30,586.45L293.03,586.45L293.75,586.45L294.48,586.45L295.20,586.45L295.93,586.45L296.66,586.45L297.38,586.45L298.11,586.45L298.83,586.45L299.56,586.45L300.29,586.45L301.01,586.45L301.74,586.45L302.46,586.45L303.19,586.45L303.92,586.45L304.64,586.45L305.37,586.45L306.10,586.45L306.82,586.45L307.55,586.45L308.27,586.45L309.00,586.45" fill="none" stroke="#111" stroke-width="1.2" stroke-opacity="1.0" stroke-dasharray="4 2.5 1.2 2.7 1.2 2.7" stroke-dashoffset="3.2" stroke-linejoin="round"/><path d="M48.00,590.81L309.00,590.81" fill="none" stroke="#333" stroke-width="1.2" stroke-opacity="1.0" stroke-linejoin="round"/><path d="M206.50,661.90H220.40" fill="none" stroke="#000" stroke-width="1.2" stroke-opacity="1.0"/><text transform="translate(228.70,666.70) scale(0.96,1)" font-size="13" fill="#222">Steady state</text><path d="M206.50,677.35H220.40" fill="none" stroke="#000" stroke-width="1.2" stroke-opacity="1.0" stroke-dasharray="4 2.5"/><text transform="translate(228.70,682.15) scale(0.96,1)" font-size="13" fill="#222">Acute d 0</text><path d="M206.50,692.80H220.40" fill="none" stroke="#000" stroke-width="1.2" stroke-opacity="1.0" stroke-dasharray="4 2.5 1.2 2.5"/><text transform="translate(228.70,697.60) scale(0.96,1)" font-size="13" fill="#222">Acute d 3</text><path d="M206.50,708.25H220.40" fill="none" stroke="#000" stroke-width="1.2" stroke-opacity="0.8" stroke-dasharray="1.2 2.6"/><text transform="translate(228.70,713.05) scale(0.96,1)" font-size="13" fill="#222">Acute d 9</text><path d="M206.50,723.70H220.40" fill="none" stroke="#000" stroke-width="1.2" stroke-opacity="1.0" stroke-dasharray="4 2.5 1.2 2.7 1.2 2.7"/><text transform="translate(228.70,728.50) scale(0.96,1)" font-size="13" fill="#222">Chronic d 0</text></g>
<g><text transform="translate(352.60,543.60) scale(0.92,1)" font-size="16.5" font-weight="bold" fill="#000">F</text><path d="M381.50,570.70V744.00H641.40" fill="none" stroke="#111" stroke-width="1.35"/><path d="M378.00,744.00H381.50" stroke="#1a1a1a" stroke-width="1.4"/><text transform="translate(376.50,747.70) scale(0.97,1)" font-size="10.3" font-weight="bold" text-anchor="end" fill="#000">0</text><path d="M378.00,709.34H381.50" stroke="#1a1a1a" stroke-width="1.4"/><text transform="translate(376.50,713.04) scale(0.97,1)" font-size="10.3" font-weight="bold" text-anchor="end" fill="#000">200</text><path d="M378.00,674.68H381.50" stroke="#1a1a1a" stroke-width="1.4"/><text transform="translate(376.50,678.38) scale(0.97,1)" font-size="10.3" font-weight="bold" text-anchor="end" fill="#000">400</text><path d="M378.00,640.02H381.50" stroke="#1a1a1a" stroke-width="1.4"/><text transform="translate(376.50,643.72) scale(0.97,1)" font-size="10.3" font-weight="bold" text-anchor="end" fill="#000">600</text><path d="M378.00,605.36H381.50" stroke="#1a1a1a" stroke-width="1.4"/><text transform="translate(376.50,609.06) scale(0.97,1)" font-size="10.3" font-weight="bold" text-anchor="end" fill="#000">800</text><path d="M378.00,570.70H381.50" stroke="#1a1a1a" stroke-width="1.4"/><text transform="translate(376.50,574.40) scale(0.97,1)" font-size="10.3" font-weight="bold" text-anchor="end" fill="#000">1000</text><path d="M381.50,744.00V747.50" stroke="#1a1a1a" stroke-width="1.4"/><text transform="translate(381.50,759.00) scale(0.97,1)" font-size="10.3" font-weight="bold" text-anchor="middle" fill="#000">0</text><path d="M424.82,744.00V747.50" stroke="#1a1a1a" stroke-width="1.4"/><text transform="translate(424.82,759.00) scale(0.97,1)" font-size="10.3" font-weight="bold" text-anchor="middle" fill="#000">5</text><path d="M468.13,744.00V747.50" stroke="#1a1a1a" stroke-width="1.4"/><text transform="translate(468.13,759.00) scale(0.97,1)" font-size="10.3" font-weight="bold" text-anchor="middle" fill="#000">10</text><path d="M511.45,744.00V747.50" stroke="#1a1a1a" stroke-width="1.4"/><text transform="translate(511.45,759.00) scale(0.97,1)" font-size="10.3" font-weight="bold" text-anchor="middle" fill="#000">15</text><path d="M554.77,744.00V747.50" stroke="#1a1a1a" stroke-width="1.4"/><text transform="translate(554.77,759.00) scale(0.97,1)" font-size="10.3" font-weight="bold" text-anchor="middle" fill="#000">20</text><path d="M598.08,744.00V747.50" stroke="#1a1a1a" stroke-width="1.4"/><text transform="translate(598.08,759.00) scale(0.97,1)" font-size="10.3" font-weight="bold" text-anchor="middle" fill="#000">25</text><path d="M641.40,744.00V747.50" stroke="#1a1a1a" stroke-width="1.4"/><text transform="translate(641.40,759.00) scale(0.97,1)" font-size="10.3" font-weight="bold" text-anchor="middle" fill="#000">30</text><text x="511.45" y="776.70" font-size="14.2" text-anchor="middle" fill="#111">Time (d)</text><text transform="translate(347.90,657.35) rotate(-90)" x="0" y="0" font-size="16" text-anchor="middle" fill="#111">RID-predicted TBS (μmol)</text><path d="M381.50,624.08L459.47,624.42L468.48,640.02L469.20,639.38L469.93,638.74L470.65,638.12L471.37,637.51L472.10,636.91L472.82,636.33L473.54,635.77L474.27,635.24L474.99,634.73L475.72,634.24L476.44,633.78L477.16,633.36L477.89,632.97L478.61,632.59L479.33,632.22L480.06,631.86L480.78,631.50L481.50,631.16L482.23,630.82L482.95,630.49L483.67,630.17L484.40,629.86L485.12,629.56L485.84,629.27L486.57,628.99L487.29,628.72L488.01,628.47L488.74,628.22L489.46,627.99L490.19,627.78L490.91,627.58L491.63,627.39L492.36,627.22L493.08,627.06L493.80,626.91L494.53,626.77L495.25,626.62L495.97,626.48L496.70,626.34L497.42,626.20L498.14,626.07L498.87,625.94L499.59,625.81L500.31,625.68L501.04,625.56L501.76,625.45L502.49,625.34L503.21,625.24L503.93,625.14L504.66,625.05L505.38,624.96L506.10,624.89L506.83,624.82L507.55,624.76L508.27,624.71L509.00,624.67L509.72,624.63L510.44,624.61L511.17,624.60L511.89,624.59L512.61,624.59L513.34,624.59L514.06,624.59L514.78,624.58L515.51,624.58L516.23,624.58L516.96,624.58L517.68,624.58L518.40,624.57L519.13,624.57L519.85,624.57L520.57,624.57L521.30,624.56L522.02,624.56L522.74,624.56L523.47,624.56L524.19,624.56L524.91,624.55L525.64,624.55L526.36,624.55L527.08,624.55L527.81,624.54L528.53,624.54L529.26,624.54L529.98,624.54L530.70,624.54L531.43,624.54L532.15,624.53L532.87,624.53L533.60,624.53L534.32,624.53L535.04,624.53L535.77,624.52L536.49,624.52L537.21,624.52L537.94,624.52L538.66,624.52L539.38,624.52L540.11,624.51L540.83,624.51L541.55,624.51L542.28,624.51L543.00,624.51L543.73,624.51L544.45,624.50L545.17,624.50L545.90,624.50L546.62,624.50L547.34,624.50L548.07,624.50L548.79,624.50L549.51,624.49L550.24,624.49L550.96,624.49L551.68,624.49L552.41,624.49L553.13,624.49L553.85,624.49L554.58,624.48L555.30,624.48L556.03,624.48L556.75,624.48L557.47,624.48L558.20,624.48L558.92,624.48L559.64,624.48L560.37,624.47L561.09,624.47L561.81,624.47L562.54,624.47L563.26,624.47L563.98,624.47L564.71,624.47L565.43,624.47L566.15,624.47L566.88,624.46L567.60,624.46L568.32,624.46L569.05,624.46L569.77,624.46L570.50,624.46L571.22,624.46L571.94,624.46L572.67,624.46L573.39,624.46L574.11,624.46L574.84,624.45L575.56,624.45L576.28,624.45L577.01,624.45L577.73,624.45L578.45,624.45L579.18,624.45L579.90,624.45L580.62,624.45L581.35,624.45L582.07,624.45L582.80,624.45L583.52,624.45L584.24,624.44L584.97,624.44L585.69,624.44L586.41,624.44L587.14,624.44L587.86,624.44L588.58,624.44L589.31,624.44L590.03,624.44L590.75,624.44L591.48,624.44L592.20,624.44L592.92,624.44L593.65,624.44L594.37,624.44L595.10,624.44L595.82,624.44L596.54,624.44L597.27,624.43L597.99,624.43L598.71,624.43L599.44,624.43L600.16,624.43L600.88,624.43L601.61,624.43L602.33,624.43L603.05,624.43L603.78,624.43L604.50,624.43L605.22,624.43L605.95,624.43L606.67,624.43L607.39,624.43L608.12,624.43L608.84,624.43L609.57,624.43L610.29,624.43L611.01,624.43L611.74,624.43L612.46,624.43L613.18,624.43L613.91,624.43L614.63,624.43L615.35,624.43L616.08,624.43L616.80,624.43L617.52,624.43L618.25,624.43L618.97,624.43L619.69,624.43L620.42,624.43L621.14,624.42L621.87,624.42L622.59,624.42L623.31,624.42L624.04,624.42L624.76,624.42L625.48,624.42L626.21,624.42L626.93,624.42L627.65,624.42L628.38,624.42L629.10,624.42L629.82,624.42L630.55,624.42L631.27,624.42L631.99,624.42L632.72,624.42L633.44,624.42L634.16,624.42L634.89,624.42L635.61,624.42L636.34,624.42L637.06,624.42L637.78,624.42L638.51,624.42L639.23,624.42L639.95,624.42L640.68,624.42L641.40,624.42" fill="none" stroke="#111" stroke-width="1.2" stroke-opacity="0.8" stroke-dasharray="1.2 2.6" stroke-linejoin="round"/><path d="M381.50,624.08L407.49,624.08L417.89,642.69L418.61,642.69L419.33,642.69L420.06,642.69L420.78,642.69L421.50,642.69L422.23,642.69L422.95,642.69L423.67,642.69L424.40,642.69L425.12,642.63L425.84,642.44L426.57,642.13L427.29,641.73L428.01,641.25L428.74,640.71L429.46,640.13L430.18,639.53L430.91,638.93L431.63,638.35L432.35,637.80L433.08,637.32L433.80,636.89L434.52,636.48L435.25,636.06L435.97,635.65L436.69,635.24L437.42,634.84L438.14,634.44L438.86,634.06L439.59,633.70L440.31,633.35L441.03,633.02L441.76,632.72L442.48,632.44L443.20,632.17L443.93,631.90L444.65,631.63L445.37,631.37L446.10,631.12L446.82,630.87L447.54,630.63L448.27,630.40L448.99,630.18L449.71,629.96L450.44,629.76L451.16,629.57L451.88,629.39L452.61,629.22L453.33,629.07L454.05,628.93L454.78,628.81L455.50,628.70L456.22,628.60L456.95,628.51L457.67,628.43L458.39,628.35L459.12,628.28L459.84,628.21L460.56,628.15L461.29,628.08L462.01,628.02L462.73,627.96L463.46,627.89L464.18,627.83L464.90,627.76L465.63,627.69L466.35,627.62L467.07,627.54L467.80,627.47L468.52,627.39L469.24,627.31L469.97,627.23L470.69,627.16L471.41,627.08L472.14,627.00L472.86,626.92L473.58,626.84L474.31,626.76L475.03,626.68L475.75,626.60L476.48,626.53L477.20,626.45L477.92,626.37L478.65,626.30L479.37,626.23L480.09,626.15L480.82,626.08L481.54,626.02L482.26,625.95L482.99,625.88L483.71,625.82L484.43,625.76L485.16,625.70L485.88,625.64L486.60,625.59L487.33,625.54L488.05,625.49L488.77,625.45L489.50,625.40L490.22,625.35L490.94,625.31L491.67,625.26L492.39,625.22L493.11,625.17L493.84,625.13L494.56,625.08L495.28,625.04L496.01,624.99L496.73,624.95L497.45,624.91L498.18,624.86L498.90,624.82L499.62,624.78L500.35,624.75L501.07,624.71L501.79,624.67L502.52,624.64L503.24,624.61L503.96,624.58L504.69,624.55L505.41,624.53L506.13,624.51L506.86,624.49L507.58,624.47L508.30,624.45L509.03,624.44L509.75,624.43L510.47,624.43L511.20,624.42L511.92,624.42L512.64,624.42L513.37,624.42L514.09,624.42L514.81,624.42L515.54,624.42L516.26,624.42L516.98,624.42L517.71,624.42L518.43,624.42L519.15,624.42L519.88,624.42L520.60,624.42L521.32,624.42L522.05,624.42L522.77,624.42L523.49,624.42L524.22,624.42L524.94,624.42L525.66,624.42L526.39,624.42L527.11,624.42L527.83,624.42L528.56,624.42L529.28,624.42L530.00,624.42L530.73,624.42L531.45,624.42L532.17,624.42L532.90,624.42L533.62,624.42L534.34,624.42L535.07,624.42L535.79,624.42L536.51,624.42L537.24,624.42L537.96,624.42L538.68,624.42L539.41,624.42L540.13,624.42L540.85,624.42L541.58,624.42L542.30,624.42L543.02,624.42L543.75,624.42L544.47,624.42L545.19,624.42L545.92,624.42L546.64,624.42L547.36,624.42L548.09,624.42L548.81,624.42L549.54,624.42L550.26,624.42L550.98,624.42L551.71,624.42L552.43,624.42L553.15,624.42L553.88,624.42L554.60,624.42L555.32,624.42L556.05,624.42L556.77,624.42L557.49,624.42L558.22,624.42L558.94,624.42L559.66,624.42L560.39,624.42L561.11,624.42L561.83,624.42L562.56,624.42L563.28,624.42L564.00,624.42L564.73,624.42L565.45,624.42L566.17,624.42L566.90,624.42L567.62,624.42L568.34,624.42L569.07,624.42L569.79,624.42L570.51,624.42L571.24,624.42L571.96,624.42L572.68,624.42L573.41,624.42L574.13,624.42L574.85,624.42L575.58,624.42L576.30,624.42L577.02,624.42L577.75,624.42L578.47,624.42L579.19,624.42L579.92,624.42L580.64,624.42L581.36,624.42L582.09,624.42L582.81,624.42L583.53,624.42L584.26,624.42L584.98,624.42L585.70,624.42L586.43,624.42L587.15,624.42L587.87,624.42L588.60,624.42L589.32,624.42L590.04,624.42L590.77,624.42L591.49,624.42L592.21,624.42L592.94,624.42L593.66,624.42L594.38,624.42L595.11,624.42L595.83,624.42L596.55,624.42L597.28,624.42L598.00,624.42L598.72,624.42L599.45,624.42L600.17,624.42L600.89,624.42L601.62,624.42L602.34,624.42L603.06,624.42L603.79,624.42L604.51,624.42L605.23,624.42L605.96,624.42L606.68,624.42L607.40,624.42L608.13,624.42L608.85,624.42L609.57,624.42L610.30,624.42L611.02,624.42L611.74,624.42L612.47,624.42L613.19,624.42L613.91,624.42L614.64,624.42L615.36,624.42L616.08,624.42L616.81,624.42L617.53,624.42L618.25,624.42L618.98,624.42L619.70,624.42L620.42,624.42L621.15,624.42L621.87,624.42L622.59,624.42L623.32,624.42L624.04,624.42L624.76,624.42L625.49,624.42L626.21,624.42L626.93,624.42L627.66,624.42L628.38,624.42L629.10,624.42L629.83,624.42L630.55,624.42L631.27,624.42L632.00,624.42L632.72,624.42L633.44,624.42L634.17,624.42L634.89,624.42L635.61,624.42L636.34,624.42L637.06,624.42L637.78,624.42L638.51,624.42L639.23,624.42L639.95,624.42L640.68,624.42L641.40,624.42" fill="none" stroke="#111" stroke-width="1.2" stroke-opacity="1.0" stroke-dasharray="4 2.5 1.2 2.5" stroke-linejoin="round"/><path d="M381.50,622.69L389.38,611.25L398.48,651.28L399.21,652.86L399.93,654.36L400.66,655.75L401.39,657.01L402.11,658.12L402.84,659.07L403.56,659.86L404.29,660.59L405.02,661.27L405.74,661.88L406.47,662.40L407.20,662.80L407.92,663.07L408.65,662.40L409.37,661.74L410.09,661.07L410.81,660.39L411.54,659.72L412.26,659.04L412.98,658.36L413.71,657.67L414.43,656.99L415.15,656.30L415.87,655.60L416.60,654.91L417.32,654.20L418.04,653.47L418.77,652.72L419.49,651.95L420.21,651.18L420.93,650.40L421.66,649.63L422.38,648.86L423.10,648.12L423.83,647.39L424.55,646.69L425.27,646.02L425.99,645.40L426.72,644.81L427.44,644.27L428.16,643.73L428.89,643.20L429.61,642.67L430.33,642.15L431.05,641.64L431.78,641.14L432.50,640.65L433.22,640.19L433.95,639.74L434.67,639.31L435.39,638.90L436.11,638.52L436.84,638.17L437.56,637.85L438.28,637.56L439.01,637.31L439.73,637.09L440.45,636.91L441.17,636.73L441.90,636.56L442.62,636.40L443.34,636.26L444.07,636.12L444.79,635.98L445.51,635.86L446.23,635.74L446.96,635.63L447.68,635.52L448.40,635.41L449.12,635.31L449.85,635.21L450.57,635.11L451.29,635.01L452.02,634.91L452.74,634.82L453.46,634.72L454.18,634.61L454.91,634.51L455.63,634.40L456.35,634.29L457.08,634.19L457.80,634.08L458.52,633.98L459.24,633.88L459.97,633.78L460.69,633.68L461.41,633.58L462.14,633.49L462.86,633.39L463.58,633.30L464.30,633.21L465.03,633.13L465.75,633.04L466.47,632.96L467.20,632.88L467.92,632.80L468.64,632.72L469.36,632.64L470.09,632.56L470.81,632.49L471.53,632.41L472.26,632.34L472.98,632.26L473.70,632.19L474.42,632.12L475.15,632.05L475.87,631.98L476.59,631.91L477.32,631.84L478.04,631.77L478.76,631.70L479.48,631.63L480.21,631.57L480.93,631.50L481.65,631.44L482.38,631.37L483.10,631.31L483.82,631.24L484.54,631.18L485.27,631.11L485.99,631.05L486.71,630.99L487.44,630.93L488.16,630.86L488.88,630.80L489.60,630.74L490.33,630.68L491.05,630.62L491.77,630.55L492.50,630.49L493.22,630.43L493.94,630.37L494.66,630.31L495.39,630.25L496.11,630.19L496.83,630.13L497.56,630.07L498.28,630.01L499.00,629.95L499.72,629.89L500.45,629.84L501.17,629.78L501.89,629.72L502.62,629.66L503.34,629.61L504.06,629.55L504.78,629.50L505.51,629.44L506.23,629.39L506.95,629.33L507.67,629.28L508.40,629.22L509.12,629.17L509.84,629.12L510.57,629.07L511.29,629.02L512.01,628.97L512.73,628.92L513.46,628.87L514.18,628.82L514.90,628.77L515.63,628.72L516.35,628.68L517.07,628.63L517.79,628.58L518.52,628.54L519.24,628.50L519.96,628.45L520.69,628.41L521.41,628.37L522.13,628.32L522.85,628.28L523.58,628.24L524.30,628.19L525.02,628.15L525.75,628.11L526.47,628.06L527.19,628.02L527.91,627.98L528.64,627.94L529.36,627.90L530.08,627.86L530.81,627.82L531.53,627.78L532.25,627.74L532.97,627.70L533.70,627.66L534.42,627.62L535.14,627.59L535.87,627.55L536.59,627.51L537.31,627.48L538.03,627.44L538.76,627.41L539.48,627.37L540.20,627.34L540.93,627.31L541.65,627.28L542.37,627.25L543.09,627.22L543.82,627.19L544.54,627.16L545.26,627.14L545.99,627.11L546.71,627.09L547.43,627.06L548.15,627.04L548.88,627.02L549.60,627.00L550.32,626.97L551.05,626.95L551.77,626.93L552.49,626.91L553.21,626.89L553.94,626.87L554.66,626.85L555.38,626.83L556.11,626.81L556.83,626.79L557.55,626.76L558.27,626.74L559.00,626.72L559.72,626.70L560.44,626.68L561.16,626.66L561.89,626.64L562.61,626.62L563.33,626.60L564.06,626.58L564.78,626.56L565.50,626.54L566.22,626.52L566.95,626.50L567.67,626.48L568.39,626.46L569.12,626.44L569.84,626.42L570.56,626.40L571.28,626.38L572.01,626.36L572.73,626.34L573.45,626.33L574.18,626.31L574.90,626.29L575.62,626.27L576.34,626.25L577.07,626.23L577.79,626.21L578.51,626.19L579.24,626.18L579.96,626.16L580.68,626.14L581.40,626.12L582.13,626.11L582.85,626.09L583.57,626.07L584.30,626.05L585.02,626.04L585.74,626.02L586.46,626.00L587.19,625.99L587.91,625.97L588.63,625.95L589.36,625.94L590.08,625.92L590.80,625.90L591.52,625.89L592.25,625.87L592.97,625.86L593.69,625.84L594.42,625.83L595.14,625.81L595.86,625.80L596.58,625.78L597.31,625.77L598.03,625.75L598.75,625.74L599.48,625.73L600.20,625.71L600.92,625.70L601.64,625.68L602.37,625.67L603.09,625.66L603.81,625.65L604.54,625.63L605.26,625.62L605.98,625.61L606.70,625.60L607.43,625.58L608.15,625.57L608.87,625.56L609.60,625.55L610.32,625.54L611.04,625.53L611.76,625.52L612.49,625.51L613.21,625.50L613.93,625.49L614.65,625.48L615.38,625.47L616.10,625.46L616.82,625.45L617.55,625.44L618.27,625.43L618.99,625.42L619.71,625.41L620.44,625.41L621.16,625.40L621.88,625.39L622.61,625.38L623.33,625.38L624.05,625.37L624.77,625.36L625.50,625.36L626.22,625.35L626.94,625.35L627.67,625.34L628.39,625.34L629.11,625.33L629.83,625.33L630.56,625.32L631.28,625.32L632.00,625.31L632.73,625.31L633.45,625.31L634.17,625.30L634.89,625.30L635.62,625.30L636.34,625.30L637.06,625.29L637.79,625.29L638.51,625.29L639.23,625.29L639.95,625.29L640.68,625.29L641.40,625.29" fill="none" stroke="#111" stroke-width="1.2" stroke-opacity="1.0" stroke-dasharray="4 2.5" stroke-linejoin="round"/><path d="M381.50,622.69L389.38,611.25L398.48,651.28L399.25,652.57L400.02,653.88L400.79,655.22L401.56,656.57L402.34,657.94L403.11,659.34L403.88,660.75L404.65,662.19L405.42,663.66L406.19,665.15L406.91,666.44L407.64,667.69L408.36,668.84L409.09,669.84L409.81,670.63L410.53,671.21L411.26,671.75L411.98,672.27L412.70,672.76L413.43,673.21L414.15,673.62L414.88,673.97L415.60,674.26L416.32,674.48L417.05,674.62L417.77,674.68L418.49,674.67L419.22,674.66L419.94,674.62L420.66,674.58L421.39,674.53L422.11,674.46L422.84,674.39L423.56,674.31L424.28,674.22L425.01,674.13L425.73,674.03L426.45,673.93L427.18,673.83L427.90,673.72L428.63,673.62L429.35,673.51L430.07,673.41L430.80,673.31L431.52,673.20L432.24,673.09L432.97,672.98L433.69,672.86L434.42,672.73L435.14,672.60L435.86,672.47L436.59,672.33L437.31,672.18L438.03,672.03L438.76,671.88L439.48,671.73L440.21,671.57L440.93,671.41L441.65,671.24L442.38,671.08L443.10,670.91L443.82,670.74L444.55,670.57L445.27,670.40L446.00,670.23L446.72,670.06L447.44,669.88L448.17,669.71L448.89,669.54L449.61,669.36L450.34,669.19L451.06,669.02L451.78,668.85L452.51,668.67L453.23,668.49L453.96,668.31L454.68,668.13L455.40,667.95L456.13,667.76L456.85,667.58L457.57,667.39L458.30,667.19L459.02,667.00L459.75,666.80L460.47,666.60L461.19,666.39L461.92,666.19L462.64,665.98L463.36,665.76L464.09,665.54L464.81,665.32L465.54,665.09L466.26,664.86L466.98,664.61L467.71,664.35L468.43,664.09L469.15,663.82L469.88,663.54L470.60,663.26L471.33,662.97L472.05,662.68L472.77,662.38L473.50,662.09L474.22,661.80L474.94,661.50L475.67,661.21L476.39,660.92L477.12,660.64L477.84,660.36L478.56,660.09L479.29,659.83L480.01,659.57L480.73,659.32L481.46,659.09L482.18,658.85L482.90,658.63L483.63,658.41L484.35,658.19L485.08,657.98L485.80,657.77L486.52,657.56L487.25,657.35L487.97,657.15L488.69,656.94L489.42,656.74L490.14,656.54L490.87,656.33L491.59,656.13L492.31,655.92L493.04,655.71L493.76,655.50L494.48,655.28L495.21,655.06L495.93,654.84L496.66,654.61L497.38,654.38L498.10,654.15L498.83,653.92L499.55,653.69L500.27,653.46L501.00,653.23L501.72,653.00L502.45,652.77L503.17,652.53L503.89,652.29L504.62,652.05L505.34,651.81L506.06,651.56L506.79,651.30L507.51,651.05L508.24,650.78L508.96,650.52L509.68,650.24L510.41,649.96L511.13,649.68L511.85,649.39L512.58,649.08L513.30,648.76L514.03,648.44L514.75,648.10L515.47,647.75L516.20,647.40L516.92,647.04L517.64,646.67L518.37,646.30L519.09,645.93L519.81,645.55L520.54,645.17L521.26,644.79L521.99,644.42L522.71,644.04L523.43,643.67L524.16,643.30L524.88,642.94L525.60,642.58L526.33,642.23L527.05,641.89L527.78,641.55L528.50,641.21L529.22,640.86L529.95,640.52L530.67,640.18L531.39,639.83L532.12,639.49L532.84,639.15L533.57,638.81L534.29,638.47L535.01,638.13L535.74,637.79L536.46,637.46L537.18,637.12L537.91,636.79L538.63,636.46L539.36,636.13L540.08,635.80L540.80,635.48L541.53,635.16L542.25,634.84L542.97,634.53L543.70,634.21L544.42,633.91L545.15,633.60L545.87,633.30L546.59,633.00L547.32,632.71L548.04,632.42L548.76,632.13L549.49,631.85L550.21,631.58L550.93,631.31L551.66,631.04L552.38,630.77L553.11,630.51L553.83,630.26L554.55,630.00L555.28,629.75L556.00,629.50L556.72,629.25L557.45,629.00L558.17,628.76L558.90,628.51L559.62,628.27L560.34,628.03L561.07,627.78L561.79,627.54L562.51,627.29L563.24,627.05L563.96,626.80L564.69,626.55L565.41,626.30L566.13,626.05L566.86,625.79L567.58,625.53L568.30,625.27L569.03,625.01L569.75,624.74L570.48,624.46L571.20,624.19L571.92,623.90L572.65,623.61L573.37,623.32L574.09,623.02L574.82,622.73L575.54,622.42L576.27,622.12L576.99,621.82L577.71,621.51L578.44,621.21L579.16,620.90L579.88,620.59L580.61,620.29L581.33,619.99L582.05,619.69L582.78,619.39L583.50,619.09L584.23,618.80L584.95,618.51L585.67,618.23L586.40,617.95L587.12,617.68L587.84,617.41L588.57,617.15L589.29,616.89L590.02,616.65L590.74,616.41L591.46,616.18L592.19,615.95L592.91,615.73L593.63,615.50L594.36,615.28L595.08,615.06L595.81,614.84L596.53,614.63L597.25,614.41L597.98,614.20L598.70,613.99L599.42,613.79L600.15,613.59L600.87,613.39L601.60,613.19L602.32,612.99L603.04,612.80L603.77,612.61L604.49,612.43L605.21,612.25L605.94,612.07L606.66,611.89L607.39,611.72L608.11,611.55L608.83,611.39L609.56,611.23L610.28,611.07L611.00,610.92L611.73,610.77L612.45,610.63L613.17,610.49L613.90,610.35L614.62,610.22L615.35,610.09L616.07,609.96L616.79,609.84L617.52,609.72L618.24,609.60L618.96,609.49L619.69,609.37L620.41,609.26L621.14,609.15L621.86,609.05L622.58,608.94L623.31,608.84L624.03,608.73L624.75,608.63L625.48,608.53L626.20,608.43L626.93,608.33L627.65,608.23L628.37,608.14L629.10,608.04L629.82,607.94L630.54,607.85L631.27,607.76L631.99,607.66L632.72,607.57L633.44,607.48L634.16,607.39L634.89,607.30L635.61,607.22L636.33,607.13L637.06,607.05L637.78,606.97L638.51,606.88L639.23,606.80L639.95,606.73L640.68,606.65L641.40,606.57" fill="none" stroke="#111" stroke-width="1.2" stroke-opacity="1.0" stroke-dasharray="4 2.5 1.2 2.7 1.2 2.7" stroke-dashoffset="3.2" stroke-linejoin="round"/><path d="M381.50,624.08L641.40,624.08" fill="none" stroke="#333" stroke-width="1.2" stroke-opacity="1.0" stroke-linejoin="round"/><path d="M538.90,663.30H552.70" fill="none" stroke="#000" stroke-width="1.2" stroke-opacity="1.0"/><text transform="translate(561.20,668.10) scale(0.96,1)" font-size="13" fill="#222">Steady state</text><path d="M538.90,678.90H552.70" fill="none" stroke="#000" stroke-width="1.2" stroke-opacity="1.0" stroke-dasharray="4 2.5"/><text transform="translate(561.20,683.70) scale(0.96,1)" font-size="13" fill="#222">Acute d 0</text><path d="M538.90,694.50H552.70" fill="none" stroke="#000" stroke-width="1.2" stroke-opacity="1.0" stroke-dasharray="4 2.5 1.2 2.5"/><text transform="translate(561.20,699.30) scale(0.96,1)" font-size="13" fill="#222">Acute d 3</text><path d="M538.90,710.10H552.70" fill="none" stroke="#000" stroke-width="1.2" stroke-opacity="0.8" stroke-dasharray="1.2 2.6"/><text transform="translate(561.20,714.90) scale(0.96,1)" font-size="13" fill="#222">Acute d 9</text><path d="M538.90,725.70H552.70" fill="none" stroke="#000" stroke-width="1.2" stroke-opacity="1.0" stroke-dasharray="4 2.5 1.2 2.7 1.2 2.7"/><text transform="translate(561.20,730.50) scale(0.96,1)" font-size="13" fill="#222">Chronic d 0</text></g>
</g></svg></body></html>
